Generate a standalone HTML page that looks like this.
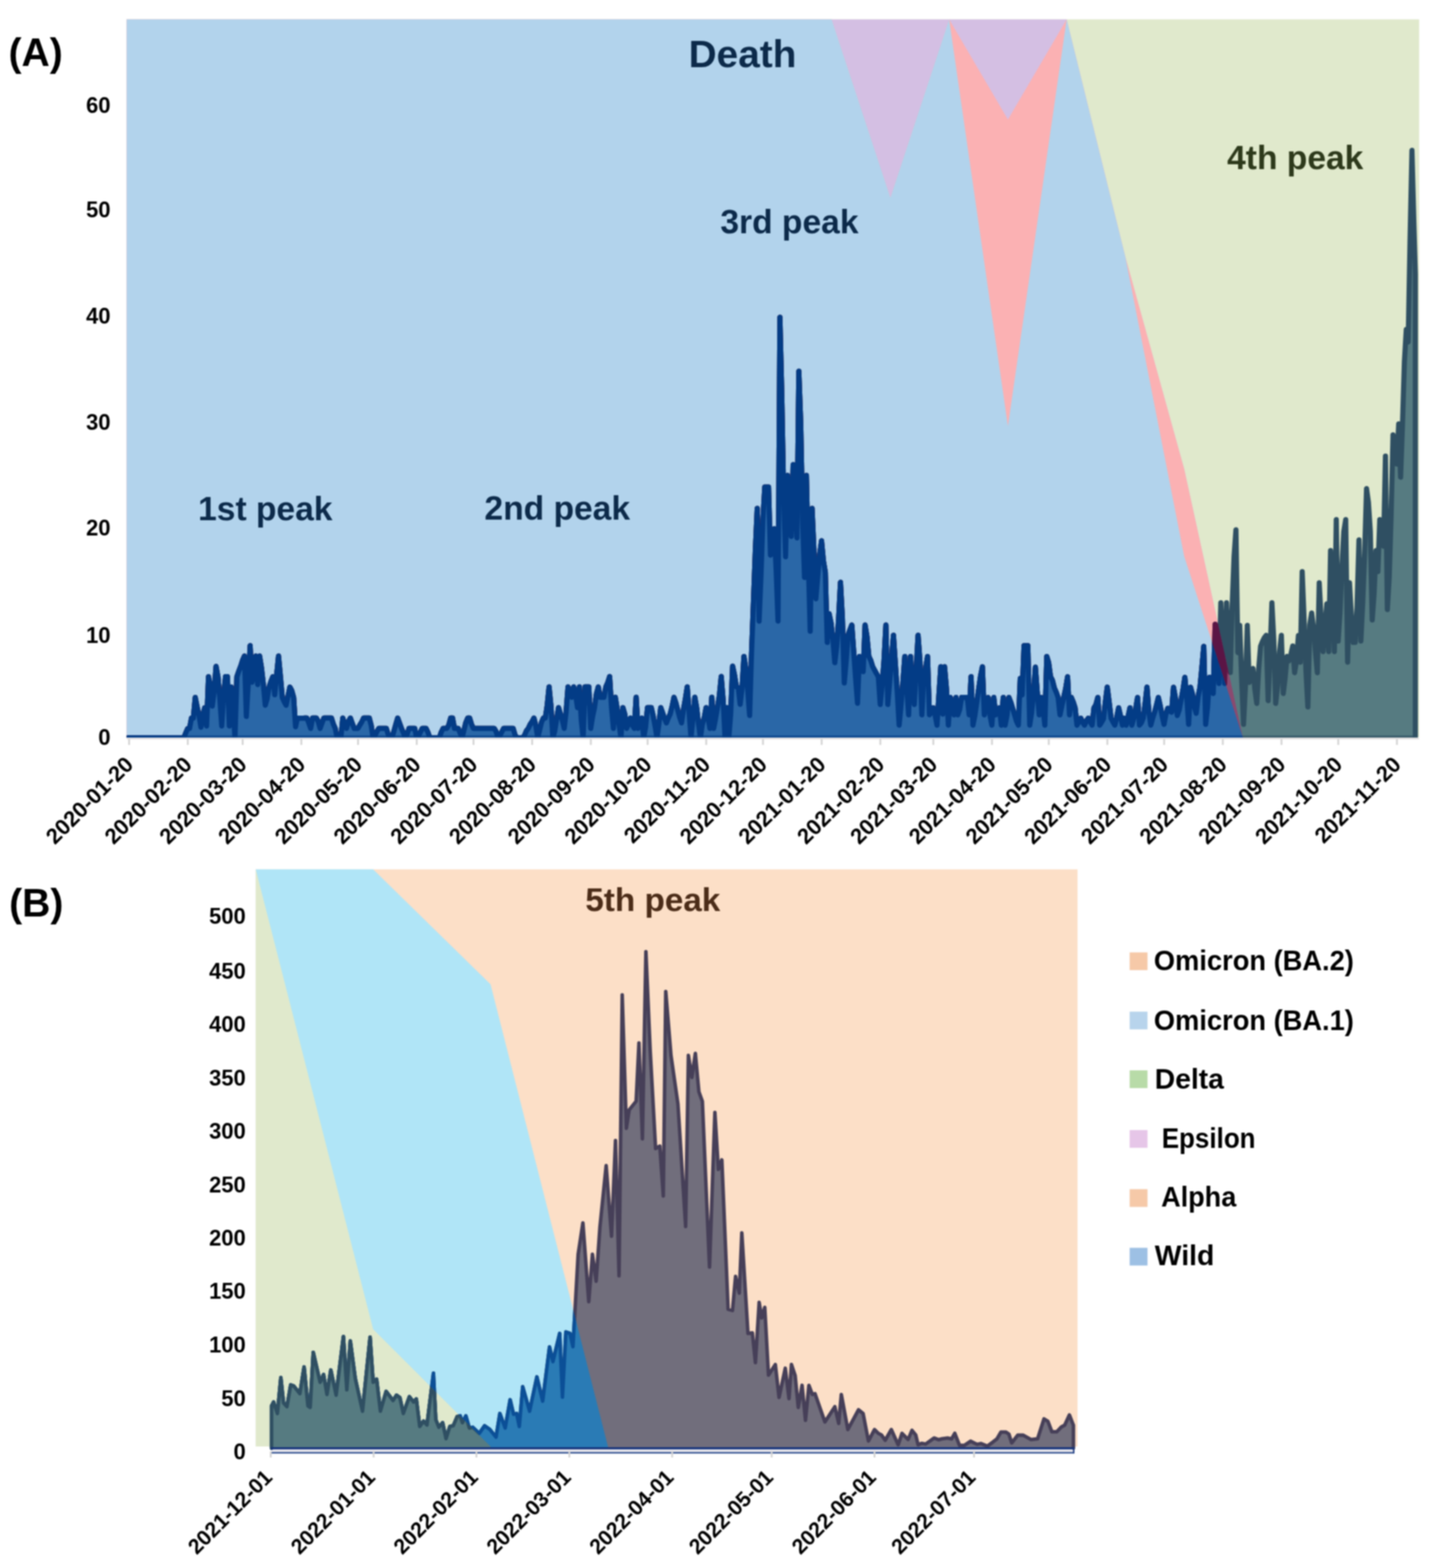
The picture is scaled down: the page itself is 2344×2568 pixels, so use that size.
<!DOCTYPE html>
<html><head><meta charset="utf-8"><title>Variant waves</title><style>
html,body{margin:0;padding:0;background:#fff;width:2344px;height:2568px;overflow:hidden;}
svg{display:block;filter:blur(1px);}
text{font-family:"Liberation Sans",Arial,Helvetica,sans-serif;font-weight:bold;}
</style></head><body>
<svg width="2344" height="2568" viewBox="0 0 2344 2568">
<rect x="0" y="0" width="2344" height="2568" fill="#ffffff"/>
<defs>
<clipPath id="cWA"><polygon points="207.5,31.7 303.7,31.7 400.0,31.7 496.2,31.7 592.4,31.7 688.7,31.7 784.9,31.7 881.1,31.7 977.4,31.7 1073.6,31.7 1169.8,31.7 1266.0,31.7 1362.3,31.7 1458.5,323.4 1554.7,31.7 1651.0,698.0 1747.2,31.7 1843.4,421.0 1939.7,911.0 2035.9,1208.0 2132.1,1208.0 2228.4,1208.0 2324.6,1208.0 2324.6,1208.0 2228.4,1208.0 2132.1,1208.0 2035.9,1208.0 1939.7,1208.0 1843.4,1208.0 1747.2,1208.0 1651.0,1208.0 1554.7,1208.0 1458.5,1208.0 1362.3,1208.0 1266.0,1208.0 1169.8,1208.0 1073.6,1208.0 977.4,1208.0 881.1,1208.0 784.9,1208.0 688.7,1208.0 592.4,1208.0 496.2,1208.0 400.0,1208.0 303.7,1208.0 207.5,1208.0"/></clipPath>
<clipPath id="cAA"><polygon points="207.5,31.7 303.7,31.7 400.0,31.7 496.2,31.7 592.4,31.7 688.7,31.7 784.9,31.7 881.1,31.7 977.4,31.7 1073.6,31.7 1169.8,31.7 1266.0,31.7 1362.3,31.7 1458.5,323.4 1554.7,31.7 1651.0,195.7 1747.2,31.7 1843.4,421.0 1939.7,768.0 2035.9,1208.0 2132.1,1208.0 2228.4,1208.0 2324.6,1208.0 2324.6,1208.0 2228.4,1208.0 2132.1,1208.0 2035.9,1208.0 1939.7,1208.0 1843.4,1208.0 1747.2,1208.0 1651.0,1208.0 1554.7,1208.0 1458.5,1208.0 1362.3,1208.0 1266.0,1208.0 1169.8,1208.0 1073.6,1208.0 977.4,1208.0 881.1,1208.0 784.9,1208.0 688.7,1208.0 592.4,1208.0 496.2,1208.0 400.0,1208.0 303.7,1208.0 207.5,1208.0"/></clipPath>
<clipPath id="cDA"><polygon points="207.5,31.7 2324.6,31.7 2324.6,1208.0 207.5,1208.0"/></clipPath>
<clipPath id="cDB"><polygon points="418.9,1423.8 611.2,2177.0 803.5,2369.0 803.5,2377.0 418.9,2377.0"/></clipPath>
<clipPath id="cB1"><polygon points="418.9,1423.8 611.2,1423.8 803.5,1612.0 995.8,2369.0 995.8,2377.0 418.9,2377.0"/></clipPath>
<clipPath id="cB2"><polygon points="418.9,1423.8 1765.0,1423.8 1765.0,2377.0 418.9,2377.0"/></clipPath>
</defs>
<rect x="207.5" y="31.7" width="2117.1" height="1175.3" fill="#e0e9cc"/>
<polygon points="207.5,31.7 303.7,31.7 400.0,31.7 496.2,31.7 592.4,31.7 688.7,31.7 784.9,31.7 881.1,31.7 977.4,31.7 1073.6,31.7 1169.8,31.7 1266.0,31.7 1362.3,31.7 1458.5,31.7 1554.7,31.7 1651.0,31.7 1747.2,31.7 1843.4,421.0 1939.7,768.0 2035.9,1207.0 2132.1,1207.0 2228.4,1207.0 2324.6,1207.0 2324.6,1207.0 2228.4,1207.0 2132.1,1207.0 2035.9,1207.0 1939.7,1207.0 1843.4,1207.0 1747.2,1207.0 1651.0,1207.0 1554.7,1207.0 1458.5,1207.0 1362.3,1207.0 1266.0,1207.0 1169.8,1207.0 1073.6,1207.0 977.4,1207.0 881.1,1207.0 784.9,1207.0 688.7,1207.0 592.4,1207.0 496.2,1207.0 400.0,1207.0 303.7,1207.0 207.5,1207.0" fill="#d4bfe3"/>
<polygon points="207.5,31.7 303.7,31.7 400.0,31.7 496.2,31.7 592.4,31.7 688.7,31.7 784.9,31.7 881.1,31.7 977.4,31.7 1073.6,31.7 1169.8,31.7 1266.0,31.7 1362.3,31.7 1458.5,323.4 1554.7,31.7 1651.0,195.7 1747.2,31.7 1843.4,421.0 1939.7,768.0 2035.9,1207.0 2132.1,1207.0 2228.4,1207.0 2324.6,1207.0 2324.6,1207.0 2228.4,1207.0 2132.1,1207.0 2035.9,1207.0 1939.7,1207.0 1843.4,1207.0 1747.2,1207.0 1651.0,1207.0 1554.7,1207.0 1458.5,1207.0 1362.3,1207.0 1266.0,1207.0 1169.8,1207.0 1073.6,1207.0 977.4,1207.0 881.1,1207.0 784.9,1207.0 688.7,1207.0 592.4,1207.0 496.2,1207.0 400.0,1207.0 303.7,1207.0 207.5,1207.0" fill="#fbb1b3"/>
<polygon points="207.5,31.7 303.7,31.7 400.0,31.7 496.2,31.7 592.4,31.7 688.7,31.7 784.9,31.7 881.1,31.7 977.4,31.7 1073.6,31.7 1169.8,31.7 1266.0,31.7 1362.3,31.7 1458.5,323.4 1554.7,31.7 1651.0,698.0 1747.2,31.7 1843.4,421.0 1939.7,911.0 2035.9,1207.0 2132.1,1207.0 2228.4,1207.0 2324.6,1207.0 2324.6,1207.0 2228.4,1207.0 2132.1,1207.0 2035.9,1207.0 1939.7,1207.0 1843.4,1207.0 1747.2,1207.0 1651.0,1207.0 1554.7,1207.0 1458.5,1207.0 1362.3,1207.0 1266.0,1207.0 1169.8,1207.0 1073.6,1207.0 977.4,1207.0 881.1,1207.0 784.9,1207.0 688.7,1207.0 592.4,1207.0 496.2,1207.0 400.0,1207.0 303.7,1207.0 207.5,1207.0" fill="#b2d3ec"/>
<g clip-path="url(#cDA)">
<polygon points="209.3,1208.5 209.3,1208.5 211.3,1208.5 214.4,1208.5 217.5,1208.5 220.6,1208.5 223.7,1208.5 226.8,1208.5 229.9,1208.5 233.0,1208.5 236.1,1208.5 239.2,1208.5 242.3,1208.5 245.4,1208.5 248.5,1208.5 251.6,1208.5 254.7,1208.5 257.8,1208.5 260.9,1208.5 264.0,1208.5 267.1,1208.5 270.2,1208.5 273.3,1208.5 276.4,1208.5 279.5,1208.5 282.6,1208.5 285.7,1208.5 288.8,1208.5 291.9,1208.5 295.0,1208.5 298.1,1208.5 301.2,1208.5 304.3,1200.3 307.4,1193.1 310.5,1193.1 313.6,1176.2 316.7,1176.2 319.8,1142.3 322.9,1157.9 326.0,1171.8 329.1,1191.0 332.2,1172.0 335.3,1159.2 338.4,1189.0 341.5,1108.3 344.6,1122.9 347.7,1156.4 350.8,1132.7 353.9,1091.4 357.0,1108.3 360.1,1145.0 363.2,1189.0 366.3,1138.4 369.4,1108.3 372.5,1108.3 375.6,1189.0 378.7,1125.3 381.8,1159.5 384.9,1208.5 388.0,1108.3 391.1,1099.3 394.2,1091.4 397.3,1081.5 400.4,1074.4 403.5,1173.4 406.6,1120.0 409.7,1057.5 412.8,1117.3 415.9,1100.5 419.0,1074.4 422.1,1121.2 425.2,1074.4 428.3,1093.6 431.4,1121.1 434.5,1155.1 437.6,1144.3 440.7,1125.3 443.8,1116.3 446.9,1108.3 450.0,1137.9 453.1,1105.8 456.2,1074.4 459.3,1107.4 462.4,1142.3 465.5,1149.3 468.6,1155.1 471.7,1140.4 474.8,1125.3 477.9,1131.1 481.0,1142.3 484.1,1190.3 487.2,1176.2 490.3,1176.2 493.4,1176.2 496.5,1176.2 499.6,1176.0 502.7,1176.0 505.8,1184.1 508.9,1193.0 512.0,1176.0 515.1,1176.0 518.2,1176.0 521.2,1181.4 524.3,1193.0 527.4,1184.3 530.5,1176.0 533.6,1176.0 536.7,1176.0 539.8,1176.0 542.9,1176.0 546.0,1185.8 549.1,1193.0 552.2,1208.5 555.3,1208.5 558.4,1208.5 561.5,1176.0 564.6,1186.9 567.7,1193.0 570.8,1181.6 573.9,1176.0 577.0,1184.7 580.1,1193.0 583.2,1193.0 586.3,1193.0 589.4,1187.5 592.5,1182.5 595.6,1176.0 598.7,1176.0 601.8,1176.0 604.9,1176.0 608.0,1188.0 611.1,1208.5 614.2,1204.5 617.3,1198.3 620.4,1193.0 623.5,1193.0 626.6,1193.0 629.7,1193.0 632.8,1193.0 635.9,1202.9 639.0,1208.5 642.1,1208.5 645.2,1197.7 648.3,1186.6 651.4,1176.0 654.5,1184.4 657.6,1193.0 660.7,1200.0 663.8,1208.5 666.9,1202.3 670.0,1193.0 673.1,1193.0 676.2,1193.0 679.3,1193.0 682.4,1208.5 685.5,1205.3 688.6,1199.1 691.7,1193.0 694.8,1193.0 697.9,1193.0 701.0,1199.5 704.1,1208.5 707.2,1208.5 710.3,1208.5 713.4,1208.5 716.5,1208.5 719.6,1208.5 722.7,1199.3 725.8,1193.0 728.9,1193.0 732.0,1193.0 735.1,1187.7 738.2,1176.0 741.3,1176.0 744.4,1193.0 747.5,1193.0 750.6,1193.0 753.7,1200.8 756.8,1208.5 759.9,1196.4 763.0,1183.5 766.1,1176.0 769.2,1176.0 772.3,1186.1 775.4,1193.0 778.5,1193.0 781.6,1193.0 784.7,1193.0 787.8,1193.0 790.9,1193.0 794.0,1193.0 797.1,1193.0 800.2,1193.0 803.3,1193.0 806.4,1193.0 809.5,1193.0 812.6,1198.2 815.7,1208.5 818.8,1204.9 821.9,1198.8 825.0,1193.0 828.1,1193.0 831.2,1193.0 834.3,1193.0 837.4,1193.0 840.5,1193.0 843.6,1203.7 846.7,1208.5 849.8,1208.5 852.9,1208.5 856.0,1208.5 859.1,1204.5 862.2,1197.1 865.3,1193.0 868.4,1186.5 871.5,1182.0 874.6,1176.0 877.7,1188.8 880.8,1208.5 883.9,1196.0 887.0,1183.1 890.1,1176.0 893.2,1176.0 896.3,1155.3 899.4,1125.0 902.5,1156.6 905.6,1208.5 908.7,1197.3 911.8,1177.9 914.9,1159.0 918.0,1169.4 921.1,1179.5 924.2,1193.0 927.3,1165.7 930.4,1125.0 933.5,1135.1 936.6,1142.0 939.7,1125.0 942.8,1137.3 945.9,1159.0 949.0,1125.0 952.1,1179.3 955.2,1208.5 958.3,1125.0 961.4,1125.0 964.5,1125.0 967.6,1193.0 970.7,1173.5 973.8,1159.0 976.9,1136.9 980.0,1125.0 983.1,1142.0 986.2,1142.0 989.3,1142.0 992.4,1125.0 995.5,1117.9 998.6,1108.0 1001.7,1159.2 1004.8,1193.0 1007.9,1142.0 1011.0,1161.4 1014.1,1187.8 1017.2,1208.5 1020.3,1159.0 1023.4,1169.7 1026.5,1193.0 1029.6,1184.6 1032.7,1176.0 1035.8,1187.7 1038.9,1193.0 1042.0,1142.0 1045.1,1193.0 1048.2,1185.7 1051.3,1176.0 1054.4,1208.5 1057.5,1191.1 1060.6,1159.0 1063.7,1159.0 1066.8,1159.0 1069.9,1172.4 1073.0,1189.2 1076.1,1208.5 1079.2,1186.2 1082.3,1159.0 1085.4,1167.7 1088.5,1176.8 1091.6,1184.0 1094.7,1176.0 1097.8,1169.4 1100.9,1157.0 1104.0,1142.0 1107.1,1151.4 1110.2,1163.2 1113.3,1175.0 1116.4,1184.0 1119.5,1162.3 1122.6,1144.9 1125.7,1125.0 1128.8,1167.6 1131.9,1208.5 1135.0,1177.4 1138.1,1142.0 1141.2,1159.5 1144.2,1185.9 1147.3,1208.5 1150.4,1186.7 1153.5,1176.0 1156.6,1159.0 1159.7,1174.3 1162.8,1193.0 1165.9,1142.0 1169.0,1193.0 1172.1,1177.1 1175.2,1159.0 1178.3,1139.6 1181.4,1108.0 1184.5,1146.1 1187.6,1208.5 1190.7,1159.0 1193.8,1208.5 1196.9,1169.2 1200.0,1091.0 1203.1,1105.3 1206.2,1125.0 1209.3,1126.6 1212.4,1153.5 1215.5,1127.3 1218.6,1075.1 1221.7,1095.3 1224.8,1131.4 1227.9,1171.8 1231.0,1070.7 1234.1,987.0 1237.2,902.6 1240.3,832.6 1243.4,1017.2 1246.5,943.1 1249.6,852.4 1252.7,797.7 1255.8,797.7 1258.9,797.7 1262.0,909.2 1265.1,887.4 1268.2,865.9 1271.3,933.3 1274.4,1017.2 1277.5,519.7 1280.6,646.5 1283.7,815.4 1286.8,912.0 1289.9,778.6 1293.0,821.7 1296.1,878.5 1299.2,761.0 1302.3,815.7 1305.4,881.0 1308.5,608.0 1311.6,692.3 1314.7,853.4 1317.8,945.8 1320.9,778.6 1324.0,918.8 1327.1,1033.9 1330.2,832.6 1333.3,903.2 1336.4,980.7 1339.5,943.9 1342.6,908.4 1345.7,885.7 1348.8,918.6 1351.9,937.2 1355.0,1052.1 1358.1,1005.3 1361.2,1020.2 1364.3,1047.2 1367.4,1085.4 1370.5,1059.2 1373.6,1014.4 1376.7,953.8 1379.8,1011.0 1382.9,1118.6 1386.0,1083.6 1389.1,1040.2 1392.2,1031.7 1395.3,1023.6 1398.4,1067.4 1401.5,1111.1 1404.6,1151.8 1407.7,1075.1 1410.8,1091.2 1413.9,1100.0 1417.0,1023.6 1420.1,1042.1 1423.2,1075.1 1426.3,1081.6 1429.4,1091.7 1432.5,1097.5 1435.6,1103.1 1438.7,1108.3 1441.8,1153.8 1444.9,1123.2 1448.0,1082.1 1451.1,1023.6 1454.2,1153.8 1457.3,1116.9 1460.4,1078.7 1463.5,1040.5 1466.6,1087.0 1469.7,1133.6 1472.8,1187.7 1475.9,1155.6 1479.0,1117.2 1482.1,1075.1 1485.2,1126.5 1488.3,1170.8 1491.4,1075.1 1494.5,1121.4 1497.6,1153.8 1500.7,1096.6 1503.8,1040.5 1506.9,1082.9 1510.0,1170.8 1513.1,1109.6 1516.2,1094.3 1519.3,1075.1 1522.4,1170.8 1525.5,1166.4 1528.6,1159.2 1531.7,1171.0 1534.8,1187.7 1537.9,1139.0 1541.0,1092.0 1544.1,1169.5 1547.2,1092.0 1550.3,1127.7 1553.4,1187.7 1556.5,1142.3 1559.6,1154.3 1562.7,1170.8 1565.8,1142.3 1568.9,1170.8 1572.0,1162.1 1575.1,1142.3 1578.2,1142.3 1581.3,1142.3 1584.4,1142.3 1587.5,1170.8 1590.6,1108.3 1593.7,1187.7 1596.8,1172.5 1599.9,1150.8 1603.0,1129.2 1606.1,1107.5 1609.2,1092.0 1612.3,1170.8 1615.4,1154.9 1618.5,1142.3 1621.6,1171.4 1624.7,1187.7 1627.8,1142.3 1630.9,1170.8 1634.0,1164.0 1637.1,1159.2 1640.2,1187.7 1643.3,1142.3 1646.4,1187.7 1649.5,1171.8 1652.6,1142.3 1655.7,1150.2 1658.8,1160.5 1661.9,1170.9 1665.0,1181.2 1668.1,1187.7 1671.2,1111.0 1674.3,1138.2 1677.4,1057.5 1680.5,1057.5 1683.6,1057.5 1686.7,1187.7 1689.8,1167.4 1692.9,1135.4 1696.0,1092.7 1699.1,1134.0 1702.2,1170.8 1705.3,1142.3 1708.4,1159.7 1711.5,1187.7 1714.6,1075.1 1717.7,1085.2 1720.8,1108.3 1723.9,1114.3 1727.0,1126.6 1730.1,1133.7 1733.2,1142.3 1736.3,1170.8 1739.4,1156.0 1742.5,1141.8 1745.6,1127.7 1748.7,1108.3 1751.8,1170.8 1754.9,1142.3 1758.0,1149.8 1761.0,1159.2 1764.1,1187.7 1767.2,1182.3 1770.3,1176.2 1773.4,1182.9 1776.5,1187.7 1779.6,1180.3 1782.7,1176.2 1785.8,1182.2 1788.9,1187.7 1792.0,1159.2 1795.1,1154.4 1798.2,1142.3 1801.3,1187.7 1804.4,1182.9 1807.5,1177.5 1810.6,1149.8 1813.7,1125.3 1816.8,1149.7 1819.9,1176.2 1823.0,1182.3 1826.1,1187.7 1829.2,1175.3 1832.3,1159.2 1835.4,1172.7 1838.5,1187.7 1841.6,1176.2 1844.7,1187.7 1847.8,1173.8 1850.9,1159.2 1854.0,1187.7 1857.1,1176.2 1860.2,1161.4 1863.3,1142.3 1866.4,1187.7 1869.5,1183.9 1872.6,1176.2 1875.7,1152.6 1878.8,1125.3 1881.9,1166.4 1885.0,1187.7 1888.1,1176.2 1891.2,1166.8 1894.3,1155.2 1897.4,1142.3 1900.5,1156.5 1903.6,1172.5 1906.7,1186.4 1909.8,1169.5 1912.9,1160.0 1916.0,1164.4 1919.1,1166.5 1922.2,1125.6 1925.3,1142.9 1928.4,1171.9 1931.5,1163.2 1934.6,1146.6 1937.7,1130.1 1940.8,1109.3 1943.9,1141.8 1947.0,1186.4 1950.1,1125.6 1953.2,1136.6 1956.3,1157.6 1959.4,1168.3 1962.5,1141.3 1965.6,1125.6 1968.7,1092.9 1971.8,1058.6 1974.9,1186.4 1978.0,1158.2 1981.1,1109.3 1984.2,1125.2 1987.3,1135.7 1990.4,1022.4 1993.5,1068.1 1996.6,1119.4 1999.7,987.1 2002.8,1055.0 2005.9,1119.4 2009.0,987.1 2012.1,1051.9 2015.2,1101.3 2018.3,992.0 2021.4,911.5 2024.5,867.6 2027.6,1068.7 2030.7,1024.2 2033.8,1110.4 2036.9,1186.4 2040.0,1124.5 2043.1,1024.2 2046.2,1117.6 2049.3,1106.8 2052.4,1094.8 2055.5,1129.0 2058.6,1152.0 2061.7,1095.9 2064.8,1058.6 2067.9,1050.6 2071.0,1044.3 2074.1,1040.5 2077.2,1147.5 2080.3,1072.2 2083.4,987.1 2086.5,1048.9 2089.6,1152.0 2092.7,1122.4 2095.8,1068.4 2098.9,1040.5 2102.0,1135.7 2105.1,1109.9 2108.2,1074.9 2111.3,1082.3 2114.4,1072.2 2117.5,1057.9 2120.6,1101.7 2123.7,1081.5 2126.8,1040.7 2129.9,1084.5 2133.0,936.1 2136.1,1013.4 2139.2,1099.3 2142.3,1157.8 2145.4,1023.4 2148.5,1004.0 2151.6,1028.8 2154.7,1067.2 2157.8,1101.7 2160.9,954.4 2164.0,1012.6 2167.1,1067.2 2170.2,1026.6 2173.3,988.9 2176.4,1067.2 2179.5,901.6 2182.6,959.5 2185.7,1067.2 2188.8,850.9 2191.9,1049.9 2195.0,1003.1 2198.1,929.9 2201.2,870.3 2204.3,850.9 2207.4,1084.5 2210.5,954.4 2213.6,1008.9 2216.7,1052.1 2219.8,1052.1 2222.9,991.3 2226.0,884.3 2229.1,1049.9 2232.2,986.2 2235.3,906.4 2238.4,800.2 2241.5,822.6 2244.6,870.3 2247.7,1015.4 2250.8,972.3 2253.9,901.6 2257.0,936.0 2260.1,850.9 2263.2,872.9 2266.3,894.6 2269.4,746.9 2272.5,998.2 2275.6,944.0 2278.7,843.2 2281.8,712.1 2284.9,735.2 2288.0,760.0 2291.1,694.2 2294.2,781.5 2297.3,694.4 2300.4,593.0 2303.5,539.5 2306.6,560.0 2309.7,391.9 2312.8,246.3 2315.9,363.3 2318.4,449.2 2318.4,1208.5" fill="#567b81"/>
<polyline points="209.3,1208.5 211.3,1208.5 214.4,1208.5 217.5,1208.5 220.6,1208.5 223.7,1208.5 226.8,1208.5 229.9,1208.5 233.0,1208.5 236.1,1208.5 239.2,1208.5 242.3,1208.5 245.4,1208.5 248.5,1208.5 251.6,1208.5 254.7,1208.5 257.8,1208.5 260.9,1208.5 264.0,1208.5 267.1,1208.5 270.2,1208.5 273.3,1208.5 276.4,1208.5 279.5,1208.5 282.6,1208.5 285.7,1208.5 288.8,1208.5 291.9,1208.5 295.0,1208.5 298.1,1208.5 301.2,1208.5 304.3,1200.3 307.4,1193.1 310.5,1193.1 313.6,1176.2 316.7,1176.2 319.8,1142.3 322.9,1157.9 326.0,1171.8 329.1,1191.0 332.2,1172.0 335.3,1159.2 338.4,1189.0 341.5,1108.3 344.6,1122.9 347.7,1156.4 350.8,1132.7 353.9,1091.4 357.0,1108.3 360.1,1145.0 363.2,1189.0 366.3,1138.4 369.4,1108.3 372.5,1108.3 375.6,1189.0 378.7,1125.3 381.8,1159.5 384.9,1208.5 388.0,1108.3 391.1,1099.3 394.2,1091.4 397.3,1081.5 400.4,1074.4 403.5,1173.4 406.6,1120.0 409.7,1057.5 412.8,1117.3 415.9,1100.5 419.0,1074.4 422.1,1121.2 425.2,1074.4 428.3,1093.6 431.4,1121.1 434.5,1155.1 437.6,1144.3 440.7,1125.3 443.8,1116.3 446.9,1108.3 450.0,1137.9 453.1,1105.8 456.2,1074.4 459.3,1107.4 462.4,1142.3 465.5,1149.3 468.6,1155.1 471.7,1140.4 474.8,1125.3 477.9,1131.1 481.0,1142.3 484.1,1190.3 487.2,1176.2 490.3,1176.2 493.4,1176.2 496.5,1176.2 499.6,1176.0 502.7,1176.0 505.8,1184.1 508.9,1193.0 512.0,1176.0 515.1,1176.0 518.2,1176.0 521.2,1181.4 524.3,1193.0 527.4,1184.3 530.5,1176.0 533.6,1176.0 536.7,1176.0 539.8,1176.0 542.9,1176.0 546.0,1185.8 549.1,1193.0 552.2,1208.5 555.3,1208.5 558.4,1208.5 561.5,1176.0 564.6,1186.9 567.7,1193.0 570.8,1181.6 573.9,1176.0 577.0,1184.7 580.1,1193.0 583.2,1193.0 586.3,1193.0 589.4,1187.5 592.5,1182.5 595.6,1176.0 598.7,1176.0 601.8,1176.0 604.9,1176.0 608.0,1188.0 611.1,1208.5 614.2,1204.5 617.3,1198.3 620.4,1193.0 623.5,1193.0 626.6,1193.0 629.7,1193.0 632.8,1193.0 635.9,1202.9 639.0,1208.5 642.1,1208.5 645.2,1197.7 648.3,1186.6 651.4,1176.0 654.5,1184.4 657.6,1193.0 660.7,1200.0 663.8,1208.5 666.9,1202.3 670.0,1193.0 673.1,1193.0 676.2,1193.0 679.3,1193.0 682.4,1208.5 685.5,1205.3 688.6,1199.1 691.7,1193.0 694.8,1193.0 697.9,1193.0 701.0,1199.5 704.1,1208.5 707.2,1208.5 710.3,1208.5 713.4,1208.5 716.5,1208.5 719.6,1208.5 722.7,1199.3 725.8,1193.0 728.9,1193.0 732.0,1193.0 735.1,1187.7 738.2,1176.0 741.3,1176.0 744.4,1193.0 747.5,1193.0 750.6,1193.0 753.7,1200.8 756.8,1208.5 759.9,1196.4 763.0,1183.5 766.1,1176.0 769.2,1176.0 772.3,1186.1 775.4,1193.0 778.5,1193.0 781.6,1193.0 784.7,1193.0 787.8,1193.0 790.9,1193.0 794.0,1193.0 797.1,1193.0 800.2,1193.0 803.3,1193.0 806.4,1193.0 809.5,1193.0 812.6,1198.2 815.7,1208.5 818.8,1204.9 821.9,1198.8 825.0,1193.0 828.1,1193.0 831.2,1193.0 834.3,1193.0 837.4,1193.0 840.5,1193.0 843.6,1203.7 846.7,1208.5 849.8,1208.5 852.9,1208.5 856.0,1208.5 859.1,1204.5 862.2,1197.1 865.3,1193.0 868.4,1186.5 871.5,1182.0 874.6,1176.0 877.7,1188.8 880.8,1208.5 883.9,1196.0 887.0,1183.1 890.1,1176.0 893.2,1176.0 896.3,1155.3 899.4,1125.0 902.5,1156.6 905.6,1208.5 908.7,1197.3 911.8,1177.9 914.9,1159.0 918.0,1169.4 921.1,1179.5 924.2,1193.0 927.3,1165.7 930.4,1125.0 933.5,1135.1 936.6,1142.0 939.7,1125.0 942.8,1137.3 945.9,1159.0 949.0,1125.0 952.1,1179.3 955.2,1208.5 958.3,1125.0 961.4,1125.0 964.5,1125.0 967.6,1193.0 970.7,1173.5 973.8,1159.0 976.9,1136.9 980.0,1125.0 983.1,1142.0 986.2,1142.0 989.3,1142.0 992.4,1125.0 995.5,1117.9 998.6,1108.0 1001.7,1159.2 1004.8,1193.0 1007.9,1142.0 1011.0,1161.4 1014.1,1187.8 1017.2,1208.5 1020.3,1159.0 1023.4,1169.7 1026.5,1193.0 1029.6,1184.6 1032.7,1176.0 1035.8,1187.7 1038.9,1193.0 1042.0,1142.0 1045.1,1193.0 1048.2,1185.7 1051.3,1176.0 1054.4,1208.5 1057.5,1191.1 1060.6,1159.0 1063.7,1159.0 1066.8,1159.0 1069.9,1172.4 1073.0,1189.2 1076.1,1208.5 1079.2,1186.2 1082.3,1159.0 1085.4,1167.7 1088.5,1176.8 1091.6,1184.0 1094.7,1176.0 1097.8,1169.4 1100.9,1157.0 1104.0,1142.0 1107.1,1151.4 1110.2,1163.2 1113.3,1175.0 1116.4,1184.0 1119.5,1162.3 1122.6,1144.9 1125.7,1125.0 1128.8,1167.6 1131.9,1208.5 1135.0,1177.4 1138.1,1142.0 1141.2,1159.5 1144.2,1185.9 1147.3,1208.5 1150.4,1186.7 1153.5,1176.0 1156.6,1159.0 1159.7,1174.3 1162.8,1193.0 1165.9,1142.0 1169.0,1193.0 1172.1,1177.1 1175.2,1159.0 1178.3,1139.6 1181.4,1108.0 1184.5,1146.1 1187.6,1208.5 1190.7,1159.0 1193.8,1208.5 1196.9,1169.2 1200.0,1091.0 1203.1,1105.3 1206.2,1125.0 1209.3,1126.6 1212.4,1153.5 1215.5,1127.3 1218.6,1075.1 1221.7,1095.3 1224.8,1131.4 1227.9,1171.8 1231.0,1070.7 1234.1,987.0 1237.2,902.6 1240.3,832.6 1243.4,1017.2 1246.5,943.1 1249.6,852.4 1252.7,797.7 1255.8,797.7 1258.9,797.7 1262.0,909.2 1265.1,887.4 1268.2,865.9 1271.3,933.3 1274.4,1017.2 1277.5,519.7 1280.6,646.5 1283.7,815.4 1286.8,912.0 1289.9,778.6 1293.0,821.7 1296.1,878.5 1299.2,761.0 1302.3,815.7 1305.4,881.0 1308.5,608.0 1311.6,692.3 1314.7,853.4 1317.8,945.8 1320.9,778.6 1324.0,918.8 1327.1,1033.9 1330.2,832.6 1333.3,903.2 1336.4,980.7 1339.5,943.9 1342.6,908.4 1345.7,885.7 1348.8,918.6 1351.9,937.2 1355.0,1052.1 1358.1,1005.3 1361.2,1020.2 1364.3,1047.2 1367.4,1085.4 1370.5,1059.2 1373.6,1014.4 1376.7,953.8 1379.8,1011.0 1382.9,1118.6 1386.0,1083.6 1389.1,1040.2 1392.2,1031.7 1395.3,1023.6 1398.4,1067.4 1401.5,1111.1 1404.6,1151.8 1407.7,1075.1 1410.8,1091.2 1413.9,1100.0 1417.0,1023.6 1420.1,1042.1 1423.2,1075.1 1426.3,1081.6 1429.4,1091.7 1432.5,1097.5 1435.6,1103.1 1438.7,1108.3 1441.8,1153.8 1444.9,1123.2 1448.0,1082.1 1451.1,1023.6 1454.2,1153.8 1457.3,1116.9 1460.4,1078.7 1463.5,1040.5 1466.6,1087.0 1469.7,1133.6 1472.8,1187.7 1475.9,1155.6 1479.0,1117.2 1482.1,1075.1 1485.2,1126.5 1488.3,1170.8 1491.4,1075.1 1494.5,1121.4 1497.6,1153.8 1500.7,1096.6 1503.8,1040.5 1506.9,1082.9 1510.0,1170.8 1513.1,1109.6 1516.2,1094.3 1519.3,1075.1 1522.4,1170.8 1525.5,1166.4 1528.6,1159.2 1531.7,1171.0 1534.8,1187.7 1537.9,1139.0 1541.0,1092.0 1544.1,1169.5 1547.2,1092.0 1550.3,1127.7 1553.4,1187.7 1556.5,1142.3 1559.6,1154.3 1562.7,1170.8 1565.8,1142.3 1568.9,1170.8 1572.0,1162.1 1575.1,1142.3 1578.2,1142.3 1581.3,1142.3 1584.4,1142.3 1587.5,1170.8 1590.6,1108.3 1593.7,1187.7 1596.8,1172.5 1599.9,1150.8 1603.0,1129.2 1606.1,1107.5 1609.2,1092.0 1612.3,1170.8 1615.4,1154.9 1618.5,1142.3 1621.6,1171.4 1624.7,1187.7 1627.8,1142.3 1630.9,1170.8 1634.0,1164.0 1637.1,1159.2 1640.2,1187.7 1643.3,1142.3 1646.4,1187.7 1649.5,1171.8 1652.6,1142.3 1655.7,1150.2 1658.8,1160.5 1661.9,1170.9 1665.0,1181.2 1668.1,1187.7 1671.2,1111.0 1674.3,1138.2 1677.4,1057.5 1680.5,1057.5 1683.6,1057.5 1686.7,1187.7 1689.8,1167.4 1692.9,1135.4 1696.0,1092.7 1699.1,1134.0 1702.2,1170.8 1705.3,1142.3 1708.4,1159.7 1711.5,1187.7 1714.6,1075.1 1717.7,1085.2 1720.8,1108.3 1723.9,1114.3 1727.0,1126.6 1730.1,1133.7 1733.2,1142.3 1736.3,1170.8 1739.4,1156.0 1742.5,1141.8 1745.6,1127.7 1748.7,1108.3 1751.8,1170.8 1754.9,1142.3 1758.0,1149.8 1761.0,1159.2 1764.1,1187.7 1767.2,1182.3 1770.3,1176.2 1773.4,1182.9 1776.5,1187.7 1779.6,1180.3 1782.7,1176.2 1785.8,1182.2 1788.9,1187.7 1792.0,1159.2 1795.1,1154.4 1798.2,1142.3 1801.3,1187.7 1804.4,1182.9 1807.5,1177.5 1810.6,1149.8 1813.7,1125.3 1816.8,1149.7 1819.9,1176.2 1823.0,1182.3 1826.1,1187.7 1829.2,1175.3 1832.3,1159.2 1835.4,1172.7 1838.5,1187.7 1841.6,1176.2 1844.7,1187.7 1847.8,1173.8 1850.9,1159.2 1854.0,1187.7 1857.1,1176.2 1860.2,1161.4 1863.3,1142.3 1866.4,1187.7 1869.5,1183.9 1872.6,1176.2 1875.7,1152.6 1878.8,1125.3 1881.9,1166.4 1885.0,1187.7 1888.1,1176.2 1891.2,1166.8 1894.3,1155.2 1897.4,1142.3 1900.5,1156.5 1903.6,1172.5 1906.7,1186.4 1909.8,1169.5 1912.9,1160.0 1916.0,1164.4 1919.1,1166.5 1922.2,1125.6 1925.3,1142.9 1928.4,1171.9 1931.5,1163.2 1934.6,1146.6 1937.7,1130.1 1940.8,1109.3 1943.9,1141.8 1947.0,1186.4 1950.1,1125.6 1953.2,1136.6 1956.3,1157.6 1959.4,1168.3 1962.5,1141.3 1965.6,1125.6 1968.7,1092.9 1971.8,1058.6 1974.9,1186.4 1978.0,1158.2 1981.1,1109.3 1984.2,1125.2 1987.3,1135.7 1990.4,1022.4 1993.5,1068.1 1996.6,1119.4 1999.7,987.1 2002.8,1055.0 2005.9,1119.4 2009.0,987.1 2012.1,1051.9 2015.2,1101.3 2018.3,992.0 2021.4,911.5 2024.5,867.6 2027.6,1068.7 2030.7,1024.2 2033.8,1110.4 2036.9,1186.4 2040.0,1124.5 2043.1,1024.2 2046.2,1117.6 2049.3,1106.8 2052.4,1094.8 2055.5,1129.0 2058.6,1152.0 2061.7,1095.9 2064.8,1058.6 2067.9,1050.6 2071.0,1044.3 2074.1,1040.5 2077.2,1147.5 2080.3,1072.2 2083.4,987.1 2086.5,1048.9 2089.6,1152.0 2092.7,1122.4 2095.8,1068.4 2098.9,1040.5 2102.0,1135.7 2105.1,1109.9 2108.2,1074.9 2111.3,1082.3 2114.4,1072.2 2117.5,1057.9 2120.6,1101.7 2123.7,1081.5 2126.8,1040.7 2129.9,1084.5 2133.0,936.1 2136.1,1013.4 2139.2,1099.3 2142.3,1157.8 2145.4,1023.4 2148.5,1004.0 2151.6,1028.8 2154.7,1067.2 2157.8,1101.7 2160.9,954.4 2164.0,1012.6 2167.1,1067.2 2170.2,1026.6 2173.3,988.9 2176.4,1067.2 2179.5,901.6 2182.6,959.5 2185.7,1067.2 2188.8,850.9 2191.9,1049.9 2195.0,1003.1 2198.1,929.9 2201.2,870.3 2204.3,850.9 2207.4,1084.5 2210.5,954.4 2213.6,1008.9 2216.7,1052.1 2219.8,1052.1 2222.9,991.3 2226.0,884.3 2229.1,1049.9 2232.2,986.2 2235.3,906.4 2238.4,800.2 2241.5,822.6 2244.6,870.3 2247.7,1015.4 2250.8,972.3 2253.9,901.6 2257.0,936.0 2260.1,850.9 2263.2,872.9 2266.3,894.6 2269.4,746.9 2272.5,998.2 2275.6,944.0 2278.7,843.2 2281.8,712.1 2284.9,735.2 2288.0,760.0 2291.1,694.2 2294.2,781.5 2297.3,694.4 2300.4,593.0 2303.5,539.5 2306.6,560.0 2309.7,391.9 2312.8,246.3 2315.9,363.3 2318.4,449.2 2318.4,1208.5" fill="none" stroke="#2f4f62" stroke-width="8.4" stroke-linejoin="round" stroke-linecap="round"/>
<line x1="207.5" y1="1206.4" x2="2320.4" y2="1206.4" stroke="#2f4f62" stroke-opacity="0.75" stroke-width="3.2"/>
</g>
<g clip-path="url(#cAA)">
<polygon points="209.3,1208.5 209.3,1208.5 211.3,1208.5 214.4,1208.5 217.5,1208.5 220.6,1208.5 223.7,1208.5 226.8,1208.5 229.9,1208.5 233.0,1208.5 236.1,1208.5 239.2,1208.5 242.3,1208.5 245.4,1208.5 248.5,1208.5 251.6,1208.5 254.7,1208.5 257.8,1208.5 260.9,1208.5 264.0,1208.5 267.1,1208.5 270.2,1208.5 273.3,1208.5 276.4,1208.5 279.5,1208.5 282.6,1208.5 285.7,1208.5 288.8,1208.5 291.9,1208.5 295.0,1208.5 298.1,1208.5 301.2,1208.5 304.3,1200.3 307.4,1193.1 310.5,1193.1 313.6,1176.2 316.7,1176.2 319.8,1142.3 322.9,1157.9 326.0,1171.8 329.1,1191.0 332.2,1172.0 335.3,1159.2 338.4,1189.0 341.5,1108.3 344.6,1122.9 347.7,1156.4 350.8,1132.7 353.9,1091.4 357.0,1108.3 360.1,1145.0 363.2,1189.0 366.3,1138.4 369.4,1108.3 372.5,1108.3 375.6,1189.0 378.7,1125.3 381.8,1159.5 384.9,1208.5 388.0,1108.3 391.1,1099.3 394.2,1091.4 397.3,1081.5 400.4,1074.4 403.5,1173.4 406.6,1120.0 409.7,1057.5 412.8,1117.3 415.9,1100.5 419.0,1074.4 422.1,1121.2 425.2,1074.4 428.3,1093.6 431.4,1121.1 434.5,1155.1 437.6,1144.3 440.7,1125.3 443.8,1116.3 446.9,1108.3 450.0,1137.9 453.1,1105.8 456.2,1074.4 459.3,1107.4 462.4,1142.3 465.5,1149.3 468.6,1155.1 471.7,1140.4 474.8,1125.3 477.9,1131.1 481.0,1142.3 484.1,1190.3 487.2,1176.2 490.3,1176.2 493.4,1176.2 496.5,1176.2 499.6,1176.0 502.7,1176.0 505.8,1184.1 508.9,1193.0 512.0,1176.0 515.1,1176.0 518.2,1176.0 521.2,1181.4 524.3,1193.0 527.4,1184.3 530.5,1176.0 533.6,1176.0 536.7,1176.0 539.8,1176.0 542.9,1176.0 546.0,1185.8 549.1,1193.0 552.2,1208.5 555.3,1208.5 558.4,1208.5 561.5,1176.0 564.6,1186.9 567.7,1193.0 570.8,1181.6 573.9,1176.0 577.0,1184.7 580.1,1193.0 583.2,1193.0 586.3,1193.0 589.4,1187.5 592.5,1182.5 595.6,1176.0 598.7,1176.0 601.8,1176.0 604.9,1176.0 608.0,1188.0 611.1,1208.5 614.2,1204.5 617.3,1198.3 620.4,1193.0 623.5,1193.0 626.6,1193.0 629.7,1193.0 632.8,1193.0 635.9,1202.9 639.0,1208.5 642.1,1208.5 645.2,1197.7 648.3,1186.6 651.4,1176.0 654.5,1184.4 657.6,1193.0 660.7,1200.0 663.8,1208.5 666.9,1202.3 670.0,1193.0 673.1,1193.0 676.2,1193.0 679.3,1193.0 682.4,1208.5 685.5,1205.3 688.6,1199.1 691.7,1193.0 694.8,1193.0 697.9,1193.0 701.0,1199.5 704.1,1208.5 707.2,1208.5 710.3,1208.5 713.4,1208.5 716.5,1208.5 719.6,1208.5 722.7,1199.3 725.8,1193.0 728.9,1193.0 732.0,1193.0 735.1,1187.7 738.2,1176.0 741.3,1176.0 744.4,1193.0 747.5,1193.0 750.6,1193.0 753.7,1200.8 756.8,1208.5 759.9,1196.4 763.0,1183.5 766.1,1176.0 769.2,1176.0 772.3,1186.1 775.4,1193.0 778.5,1193.0 781.6,1193.0 784.7,1193.0 787.8,1193.0 790.9,1193.0 794.0,1193.0 797.1,1193.0 800.2,1193.0 803.3,1193.0 806.4,1193.0 809.5,1193.0 812.6,1198.2 815.7,1208.5 818.8,1204.9 821.9,1198.8 825.0,1193.0 828.1,1193.0 831.2,1193.0 834.3,1193.0 837.4,1193.0 840.5,1193.0 843.6,1203.7 846.7,1208.5 849.8,1208.5 852.9,1208.5 856.0,1208.5 859.1,1204.5 862.2,1197.1 865.3,1193.0 868.4,1186.5 871.5,1182.0 874.6,1176.0 877.7,1188.8 880.8,1208.5 883.9,1196.0 887.0,1183.1 890.1,1176.0 893.2,1176.0 896.3,1155.3 899.4,1125.0 902.5,1156.6 905.6,1208.5 908.7,1197.3 911.8,1177.9 914.9,1159.0 918.0,1169.4 921.1,1179.5 924.2,1193.0 927.3,1165.7 930.4,1125.0 933.5,1135.1 936.6,1142.0 939.7,1125.0 942.8,1137.3 945.9,1159.0 949.0,1125.0 952.1,1179.3 955.2,1208.5 958.3,1125.0 961.4,1125.0 964.5,1125.0 967.6,1193.0 970.7,1173.5 973.8,1159.0 976.9,1136.9 980.0,1125.0 983.1,1142.0 986.2,1142.0 989.3,1142.0 992.4,1125.0 995.5,1117.9 998.6,1108.0 1001.7,1159.2 1004.8,1193.0 1007.9,1142.0 1011.0,1161.4 1014.1,1187.8 1017.2,1208.5 1020.3,1159.0 1023.4,1169.7 1026.5,1193.0 1029.6,1184.6 1032.7,1176.0 1035.8,1187.7 1038.9,1193.0 1042.0,1142.0 1045.1,1193.0 1048.2,1185.7 1051.3,1176.0 1054.4,1208.5 1057.5,1191.1 1060.6,1159.0 1063.7,1159.0 1066.8,1159.0 1069.9,1172.4 1073.0,1189.2 1076.1,1208.5 1079.2,1186.2 1082.3,1159.0 1085.4,1167.7 1088.5,1176.8 1091.6,1184.0 1094.7,1176.0 1097.8,1169.4 1100.9,1157.0 1104.0,1142.0 1107.1,1151.4 1110.2,1163.2 1113.3,1175.0 1116.4,1184.0 1119.5,1162.3 1122.6,1144.9 1125.7,1125.0 1128.8,1167.6 1131.9,1208.5 1135.0,1177.4 1138.1,1142.0 1141.2,1159.5 1144.2,1185.9 1147.3,1208.5 1150.4,1186.7 1153.5,1176.0 1156.6,1159.0 1159.7,1174.3 1162.8,1193.0 1165.9,1142.0 1169.0,1193.0 1172.1,1177.1 1175.2,1159.0 1178.3,1139.6 1181.4,1108.0 1184.5,1146.1 1187.6,1208.5 1190.7,1159.0 1193.8,1208.5 1196.9,1169.2 1200.0,1091.0 1203.1,1105.3 1206.2,1125.0 1209.3,1126.6 1212.4,1153.5 1215.5,1127.3 1218.6,1075.1 1221.7,1095.3 1224.8,1131.4 1227.9,1171.8 1231.0,1070.7 1234.1,987.0 1237.2,902.6 1240.3,832.6 1243.4,1017.2 1246.5,943.1 1249.6,852.4 1252.7,797.7 1255.8,797.7 1258.9,797.7 1262.0,909.2 1265.1,887.4 1268.2,865.9 1271.3,933.3 1274.4,1017.2 1277.5,519.7 1280.6,646.5 1283.7,815.4 1286.8,912.0 1289.9,778.6 1293.0,821.7 1296.1,878.5 1299.2,761.0 1302.3,815.7 1305.4,881.0 1308.5,608.0 1311.6,692.3 1314.7,853.4 1317.8,945.8 1320.9,778.6 1324.0,918.8 1327.1,1033.9 1330.2,832.6 1333.3,903.2 1336.4,980.7 1339.5,943.9 1342.6,908.4 1345.7,885.7 1348.8,918.6 1351.9,937.2 1355.0,1052.1 1358.1,1005.3 1361.2,1020.2 1364.3,1047.2 1367.4,1085.4 1370.5,1059.2 1373.6,1014.4 1376.7,953.8 1379.8,1011.0 1382.9,1118.6 1386.0,1083.6 1389.1,1040.2 1392.2,1031.7 1395.3,1023.6 1398.4,1067.4 1401.5,1111.1 1404.6,1151.8 1407.7,1075.1 1410.8,1091.2 1413.9,1100.0 1417.0,1023.6 1420.1,1042.1 1423.2,1075.1 1426.3,1081.6 1429.4,1091.7 1432.5,1097.5 1435.6,1103.1 1438.7,1108.3 1441.8,1153.8 1444.9,1123.2 1448.0,1082.1 1451.1,1023.6 1454.2,1153.8 1457.3,1116.9 1460.4,1078.7 1463.5,1040.5 1466.6,1087.0 1469.7,1133.6 1472.8,1187.7 1475.9,1155.6 1479.0,1117.2 1482.1,1075.1 1485.2,1126.5 1488.3,1170.8 1491.4,1075.1 1494.5,1121.4 1497.6,1153.8 1500.7,1096.6 1503.8,1040.5 1506.9,1082.9 1510.0,1170.8 1513.1,1109.6 1516.2,1094.3 1519.3,1075.1 1522.4,1170.8 1525.5,1166.4 1528.6,1159.2 1531.7,1171.0 1534.8,1187.7 1537.9,1139.0 1541.0,1092.0 1544.1,1169.5 1547.2,1092.0 1550.3,1127.7 1553.4,1187.7 1556.5,1142.3 1559.6,1154.3 1562.7,1170.8 1565.8,1142.3 1568.9,1170.8 1572.0,1162.1 1575.1,1142.3 1578.2,1142.3 1581.3,1142.3 1584.4,1142.3 1587.5,1170.8 1590.6,1108.3 1593.7,1187.7 1596.8,1172.5 1599.9,1150.8 1603.0,1129.2 1606.1,1107.5 1609.2,1092.0 1612.3,1170.8 1615.4,1154.9 1618.5,1142.3 1621.6,1171.4 1624.7,1187.7 1627.8,1142.3 1630.9,1170.8 1634.0,1164.0 1637.1,1159.2 1640.2,1187.7 1643.3,1142.3 1646.4,1187.7 1649.5,1171.8 1652.6,1142.3 1655.7,1150.2 1658.8,1160.5 1661.9,1170.9 1665.0,1181.2 1668.1,1187.7 1671.2,1111.0 1674.3,1138.2 1677.4,1057.5 1680.5,1057.5 1683.6,1057.5 1686.7,1187.7 1689.8,1167.4 1692.9,1135.4 1696.0,1092.7 1699.1,1134.0 1702.2,1170.8 1705.3,1142.3 1708.4,1159.7 1711.5,1187.7 1714.6,1075.1 1717.7,1085.2 1720.8,1108.3 1723.9,1114.3 1727.0,1126.6 1730.1,1133.7 1733.2,1142.3 1736.3,1170.8 1739.4,1156.0 1742.5,1141.8 1745.6,1127.7 1748.7,1108.3 1751.8,1170.8 1754.9,1142.3 1758.0,1149.8 1761.0,1159.2 1764.1,1187.7 1767.2,1182.3 1770.3,1176.2 1773.4,1182.9 1776.5,1187.7 1779.6,1180.3 1782.7,1176.2 1785.8,1182.2 1788.9,1187.7 1792.0,1159.2 1795.1,1154.4 1798.2,1142.3 1801.3,1187.7 1804.4,1182.9 1807.5,1177.5 1810.6,1149.8 1813.7,1125.3 1816.8,1149.7 1819.9,1176.2 1823.0,1182.3 1826.1,1187.7 1829.2,1175.3 1832.3,1159.2 1835.4,1172.7 1838.5,1187.7 1841.6,1176.2 1844.7,1187.7 1847.8,1173.8 1850.9,1159.2 1854.0,1187.7 1857.1,1176.2 1860.2,1161.4 1863.3,1142.3 1866.4,1187.7 1869.5,1183.9 1872.6,1176.2 1875.7,1152.6 1878.8,1125.3 1881.9,1166.4 1885.0,1187.7 1888.1,1176.2 1891.2,1166.8 1894.3,1155.2 1897.4,1142.3 1900.5,1156.5 1903.6,1172.5 1906.7,1186.4 1909.8,1169.5 1912.9,1160.0 1916.0,1164.4 1919.1,1166.5 1922.2,1125.6 1925.3,1142.9 1928.4,1171.9 1931.5,1163.2 1934.6,1146.6 1937.7,1130.1 1940.8,1109.3 1943.9,1141.8 1947.0,1186.4 1950.1,1125.6 1953.2,1136.6 1956.3,1157.6 1959.4,1168.3 1962.5,1141.3 1965.6,1125.6 1968.7,1092.9 1971.8,1058.6 1974.9,1186.4 1978.0,1158.2 1981.1,1109.3 1984.2,1125.2 1987.3,1135.7 1990.4,1022.4 1993.5,1068.1 1996.6,1119.4 1999.7,987.1 2002.8,1055.0 2005.9,1119.4 2009.0,987.1 2012.1,1051.9 2015.2,1101.3 2018.3,992.0 2021.4,911.5 2024.5,867.6 2027.6,1068.7 2030.7,1024.2 2033.8,1110.4 2036.9,1186.4 2040.0,1124.5 2043.1,1024.2 2046.2,1117.6 2049.3,1106.8 2052.4,1094.8 2055.5,1129.0 2058.6,1152.0 2061.7,1095.9 2064.8,1058.6 2067.9,1050.6 2071.0,1044.3 2074.1,1040.5 2077.2,1147.5 2080.3,1072.2 2083.4,987.1 2086.5,1048.9 2089.6,1152.0 2092.7,1122.4 2095.8,1068.4 2098.9,1040.5 2102.0,1135.7 2105.1,1109.9 2108.2,1074.9 2111.3,1082.3 2114.4,1072.2 2117.5,1057.9 2120.6,1101.7 2123.7,1081.5 2126.8,1040.7 2129.9,1084.5 2133.0,936.1 2136.1,1013.4 2139.2,1099.3 2142.3,1157.8 2145.4,1023.4 2148.5,1004.0 2151.6,1028.8 2154.7,1067.2 2157.8,1101.7 2160.9,954.4 2164.0,1012.6 2167.1,1067.2 2170.2,1026.6 2173.3,988.9 2176.4,1067.2 2179.5,901.6 2182.6,959.5 2185.7,1067.2 2188.8,850.9 2191.9,1049.9 2195.0,1003.1 2198.1,929.9 2201.2,870.3 2204.3,850.9 2207.4,1084.5 2210.5,954.4 2213.6,1008.9 2216.7,1052.1 2219.8,1052.1 2222.9,991.3 2226.0,884.3 2229.1,1049.9 2232.2,986.2 2235.3,906.4 2238.4,800.2 2241.5,822.6 2244.6,870.3 2247.7,1015.4 2250.8,972.3 2253.9,901.6 2257.0,936.0 2260.1,850.9 2263.2,872.9 2266.3,894.6 2269.4,746.9 2272.5,998.2 2275.6,944.0 2278.7,843.2 2281.8,712.1 2284.9,735.2 2288.0,760.0 2291.1,694.2 2294.2,781.5 2297.3,694.4 2300.4,593.0 2303.5,539.5 2306.6,560.0 2309.7,391.9 2312.8,246.3 2315.9,363.3 2318.4,449.2 2318.4,1208.5" fill="#8a4a70"/>
<polyline points="209.3,1208.5 211.3,1208.5 214.4,1208.5 217.5,1208.5 220.6,1208.5 223.7,1208.5 226.8,1208.5 229.9,1208.5 233.0,1208.5 236.1,1208.5 239.2,1208.5 242.3,1208.5 245.4,1208.5 248.5,1208.5 251.6,1208.5 254.7,1208.5 257.8,1208.5 260.9,1208.5 264.0,1208.5 267.1,1208.5 270.2,1208.5 273.3,1208.5 276.4,1208.5 279.5,1208.5 282.6,1208.5 285.7,1208.5 288.8,1208.5 291.9,1208.5 295.0,1208.5 298.1,1208.5 301.2,1208.5 304.3,1200.3 307.4,1193.1 310.5,1193.1 313.6,1176.2 316.7,1176.2 319.8,1142.3 322.9,1157.9 326.0,1171.8 329.1,1191.0 332.2,1172.0 335.3,1159.2 338.4,1189.0 341.5,1108.3 344.6,1122.9 347.7,1156.4 350.8,1132.7 353.9,1091.4 357.0,1108.3 360.1,1145.0 363.2,1189.0 366.3,1138.4 369.4,1108.3 372.5,1108.3 375.6,1189.0 378.7,1125.3 381.8,1159.5 384.9,1208.5 388.0,1108.3 391.1,1099.3 394.2,1091.4 397.3,1081.5 400.4,1074.4 403.5,1173.4 406.6,1120.0 409.7,1057.5 412.8,1117.3 415.9,1100.5 419.0,1074.4 422.1,1121.2 425.2,1074.4 428.3,1093.6 431.4,1121.1 434.5,1155.1 437.6,1144.3 440.7,1125.3 443.8,1116.3 446.9,1108.3 450.0,1137.9 453.1,1105.8 456.2,1074.4 459.3,1107.4 462.4,1142.3 465.5,1149.3 468.6,1155.1 471.7,1140.4 474.8,1125.3 477.9,1131.1 481.0,1142.3 484.1,1190.3 487.2,1176.2 490.3,1176.2 493.4,1176.2 496.5,1176.2 499.6,1176.0 502.7,1176.0 505.8,1184.1 508.9,1193.0 512.0,1176.0 515.1,1176.0 518.2,1176.0 521.2,1181.4 524.3,1193.0 527.4,1184.3 530.5,1176.0 533.6,1176.0 536.7,1176.0 539.8,1176.0 542.9,1176.0 546.0,1185.8 549.1,1193.0 552.2,1208.5 555.3,1208.5 558.4,1208.5 561.5,1176.0 564.6,1186.9 567.7,1193.0 570.8,1181.6 573.9,1176.0 577.0,1184.7 580.1,1193.0 583.2,1193.0 586.3,1193.0 589.4,1187.5 592.5,1182.5 595.6,1176.0 598.7,1176.0 601.8,1176.0 604.9,1176.0 608.0,1188.0 611.1,1208.5 614.2,1204.5 617.3,1198.3 620.4,1193.0 623.5,1193.0 626.6,1193.0 629.7,1193.0 632.8,1193.0 635.9,1202.9 639.0,1208.5 642.1,1208.5 645.2,1197.7 648.3,1186.6 651.4,1176.0 654.5,1184.4 657.6,1193.0 660.7,1200.0 663.8,1208.5 666.9,1202.3 670.0,1193.0 673.1,1193.0 676.2,1193.0 679.3,1193.0 682.4,1208.5 685.5,1205.3 688.6,1199.1 691.7,1193.0 694.8,1193.0 697.9,1193.0 701.0,1199.5 704.1,1208.5 707.2,1208.5 710.3,1208.5 713.4,1208.5 716.5,1208.5 719.6,1208.5 722.7,1199.3 725.8,1193.0 728.9,1193.0 732.0,1193.0 735.1,1187.7 738.2,1176.0 741.3,1176.0 744.4,1193.0 747.5,1193.0 750.6,1193.0 753.7,1200.8 756.8,1208.5 759.9,1196.4 763.0,1183.5 766.1,1176.0 769.2,1176.0 772.3,1186.1 775.4,1193.0 778.5,1193.0 781.6,1193.0 784.7,1193.0 787.8,1193.0 790.9,1193.0 794.0,1193.0 797.1,1193.0 800.2,1193.0 803.3,1193.0 806.4,1193.0 809.5,1193.0 812.6,1198.2 815.7,1208.5 818.8,1204.9 821.9,1198.8 825.0,1193.0 828.1,1193.0 831.2,1193.0 834.3,1193.0 837.4,1193.0 840.5,1193.0 843.6,1203.7 846.7,1208.5 849.8,1208.5 852.9,1208.5 856.0,1208.5 859.1,1204.5 862.2,1197.1 865.3,1193.0 868.4,1186.5 871.5,1182.0 874.6,1176.0 877.7,1188.8 880.8,1208.5 883.9,1196.0 887.0,1183.1 890.1,1176.0 893.2,1176.0 896.3,1155.3 899.4,1125.0 902.5,1156.6 905.6,1208.5 908.7,1197.3 911.8,1177.9 914.9,1159.0 918.0,1169.4 921.1,1179.5 924.2,1193.0 927.3,1165.7 930.4,1125.0 933.5,1135.1 936.6,1142.0 939.7,1125.0 942.8,1137.3 945.9,1159.0 949.0,1125.0 952.1,1179.3 955.2,1208.5 958.3,1125.0 961.4,1125.0 964.5,1125.0 967.6,1193.0 970.7,1173.5 973.8,1159.0 976.9,1136.9 980.0,1125.0 983.1,1142.0 986.2,1142.0 989.3,1142.0 992.4,1125.0 995.5,1117.9 998.6,1108.0 1001.7,1159.2 1004.8,1193.0 1007.9,1142.0 1011.0,1161.4 1014.1,1187.8 1017.2,1208.5 1020.3,1159.0 1023.4,1169.7 1026.5,1193.0 1029.6,1184.6 1032.7,1176.0 1035.8,1187.7 1038.9,1193.0 1042.0,1142.0 1045.1,1193.0 1048.2,1185.7 1051.3,1176.0 1054.4,1208.5 1057.5,1191.1 1060.6,1159.0 1063.7,1159.0 1066.8,1159.0 1069.9,1172.4 1073.0,1189.2 1076.1,1208.5 1079.2,1186.2 1082.3,1159.0 1085.4,1167.7 1088.5,1176.8 1091.6,1184.0 1094.7,1176.0 1097.8,1169.4 1100.9,1157.0 1104.0,1142.0 1107.1,1151.4 1110.2,1163.2 1113.3,1175.0 1116.4,1184.0 1119.5,1162.3 1122.6,1144.9 1125.7,1125.0 1128.8,1167.6 1131.9,1208.5 1135.0,1177.4 1138.1,1142.0 1141.2,1159.5 1144.2,1185.9 1147.3,1208.5 1150.4,1186.7 1153.5,1176.0 1156.6,1159.0 1159.7,1174.3 1162.8,1193.0 1165.9,1142.0 1169.0,1193.0 1172.1,1177.1 1175.2,1159.0 1178.3,1139.6 1181.4,1108.0 1184.5,1146.1 1187.6,1208.5 1190.7,1159.0 1193.8,1208.5 1196.9,1169.2 1200.0,1091.0 1203.1,1105.3 1206.2,1125.0 1209.3,1126.6 1212.4,1153.5 1215.5,1127.3 1218.6,1075.1 1221.7,1095.3 1224.8,1131.4 1227.9,1171.8 1231.0,1070.7 1234.1,987.0 1237.2,902.6 1240.3,832.6 1243.4,1017.2 1246.5,943.1 1249.6,852.4 1252.7,797.7 1255.8,797.7 1258.9,797.7 1262.0,909.2 1265.1,887.4 1268.2,865.9 1271.3,933.3 1274.4,1017.2 1277.5,519.7 1280.6,646.5 1283.7,815.4 1286.8,912.0 1289.9,778.6 1293.0,821.7 1296.1,878.5 1299.2,761.0 1302.3,815.7 1305.4,881.0 1308.5,608.0 1311.6,692.3 1314.7,853.4 1317.8,945.8 1320.9,778.6 1324.0,918.8 1327.1,1033.9 1330.2,832.6 1333.3,903.2 1336.4,980.7 1339.5,943.9 1342.6,908.4 1345.7,885.7 1348.8,918.6 1351.9,937.2 1355.0,1052.1 1358.1,1005.3 1361.2,1020.2 1364.3,1047.2 1367.4,1085.4 1370.5,1059.2 1373.6,1014.4 1376.7,953.8 1379.8,1011.0 1382.9,1118.6 1386.0,1083.6 1389.1,1040.2 1392.2,1031.7 1395.3,1023.6 1398.4,1067.4 1401.5,1111.1 1404.6,1151.8 1407.7,1075.1 1410.8,1091.2 1413.9,1100.0 1417.0,1023.6 1420.1,1042.1 1423.2,1075.1 1426.3,1081.6 1429.4,1091.7 1432.5,1097.5 1435.6,1103.1 1438.7,1108.3 1441.8,1153.8 1444.9,1123.2 1448.0,1082.1 1451.1,1023.6 1454.2,1153.8 1457.3,1116.9 1460.4,1078.7 1463.5,1040.5 1466.6,1087.0 1469.7,1133.6 1472.8,1187.7 1475.9,1155.6 1479.0,1117.2 1482.1,1075.1 1485.2,1126.5 1488.3,1170.8 1491.4,1075.1 1494.5,1121.4 1497.6,1153.8 1500.7,1096.6 1503.8,1040.5 1506.9,1082.9 1510.0,1170.8 1513.1,1109.6 1516.2,1094.3 1519.3,1075.1 1522.4,1170.8 1525.5,1166.4 1528.6,1159.2 1531.7,1171.0 1534.8,1187.7 1537.9,1139.0 1541.0,1092.0 1544.1,1169.5 1547.2,1092.0 1550.3,1127.7 1553.4,1187.7 1556.5,1142.3 1559.6,1154.3 1562.7,1170.8 1565.8,1142.3 1568.9,1170.8 1572.0,1162.1 1575.1,1142.3 1578.2,1142.3 1581.3,1142.3 1584.4,1142.3 1587.5,1170.8 1590.6,1108.3 1593.7,1187.7 1596.8,1172.5 1599.9,1150.8 1603.0,1129.2 1606.1,1107.5 1609.2,1092.0 1612.3,1170.8 1615.4,1154.9 1618.5,1142.3 1621.6,1171.4 1624.7,1187.7 1627.8,1142.3 1630.9,1170.8 1634.0,1164.0 1637.1,1159.2 1640.2,1187.7 1643.3,1142.3 1646.4,1187.7 1649.5,1171.8 1652.6,1142.3 1655.7,1150.2 1658.8,1160.5 1661.9,1170.9 1665.0,1181.2 1668.1,1187.7 1671.2,1111.0 1674.3,1138.2 1677.4,1057.5 1680.5,1057.5 1683.6,1057.5 1686.7,1187.7 1689.8,1167.4 1692.9,1135.4 1696.0,1092.7 1699.1,1134.0 1702.2,1170.8 1705.3,1142.3 1708.4,1159.7 1711.5,1187.7 1714.6,1075.1 1717.7,1085.2 1720.8,1108.3 1723.9,1114.3 1727.0,1126.6 1730.1,1133.7 1733.2,1142.3 1736.3,1170.8 1739.4,1156.0 1742.5,1141.8 1745.6,1127.7 1748.7,1108.3 1751.8,1170.8 1754.9,1142.3 1758.0,1149.8 1761.0,1159.2 1764.1,1187.7 1767.2,1182.3 1770.3,1176.2 1773.4,1182.9 1776.5,1187.7 1779.6,1180.3 1782.7,1176.2 1785.8,1182.2 1788.9,1187.7 1792.0,1159.2 1795.1,1154.4 1798.2,1142.3 1801.3,1187.7 1804.4,1182.9 1807.5,1177.5 1810.6,1149.8 1813.7,1125.3 1816.8,1149.7 1819.9,1176.2 1823.0,1182.3 1826.1,1187.7 1829.2,1175.3 1832.3,1159.2 1835.4,1172.7 1838.5,1187.7 1841.6,1176.2 1844.7,1187.7 1847.8,1173.8 1850.9,1159.2 1854.0,1187.7 1857.1,1176.2 1860.2,1161.4 1863.3,1142.3 1866.4,1187.7 1869.5,1183.9 1872.6,1176.2 1875.7,1152.6 1878.8,1125.3 1881.9,1166.4 1885.0,1187.7 1888.1,1176.2 1891.2,1166.8 1894.3,1155.2 1897.4,1142.3 1900.5,1156.5 1903.6,1172.5 1906.7,1186.4 1909.8,1169.5 1912.9,1160.0 1916.0,1164.4 1919.1,1166.5 1922.2,1125.6 1925.3,1142.9 1928.4,1171.9 1931.5,1163.2 1934.6,1146.6 1937.7,1130.1 1940.8,1109.3 1943.9,1141.8 1947.0,1186.4 1950.1,1125.6 1953.2,1136.6 1956.3,1157.6 1959.4,1168.3 1962.5,1141.3 1965.6,1125.6 1968.7,1092.9 1971.8,1058.6 1974.9,1186.4 1978.0,1158.2 1981.1,1109.3 1984.2,1125.2 1987.3,1135.7 1990.4,1022.4 1993.5,1068.1 1996.6,1119.4 1999.7,987.1 2002.8,1055.0 2005.9,1119.4 2009.0,987.1 2012.1,1051.9 2015.2,1101.3 2018.3,992.0 2021.4,911.5 2024.5,867.6 2027.6,1068.7 2030.7,1024.2 2033.8,1110.4 2036.9,1186.4 2040.0,1124.5 2043.1,1024.2 2046.2,1117.6 2049.3,1106.8 2052.4,1094.8 2055.5,1129.0 2058.6,1152.0 2061.7,1095.9 2064.8,1058.6 2067.9,1050.6 2071.0,1044.3 2074.1,1040.5 2077.2,1147.5 2080.3,1072.2 2083.4,987.1 2086.5,1048.9 2089.6,1152.0 2092.7,1122.4 2095.8,1068.4 2098.9,1040.5 2102.0,1135.7 2105.1,1109.9 2108.2,1074.9 2111.3,1082.3 2114.4,1072.2 2117.5,1057.9 2120.6,1101.7 2123.7,1081.5 2126.8,1040.7 2129.9,1084.5 2133.0,936.1 2136.1,1013.4 2139.2,1099.3 2142.3,1157.8 2145.4,1023.4 2148.5,1004.0 2151.6,1028.8 2154.7,1067.2 2157.8,1101.7 2160.9,954.4 2164.0,1012.6 2167.1,1067.2 2170.2,1026.6 2173.3,988.9 2176.4,1067.2 2179.5,901.6 2182.6,959.5 2185.7,1067.2 2188.8,850.9 2191.9,1049.9 2195.0,1003.1 2198.1,929.9 2201.2,870.3 2204.3,850.9 2207.4,1084.5 2210.5,954.4 2213.6,1008.9 2216.7,1052.1 2219.8,1052.1 2222.9,991.3 2226.0,884.3 2229.1,1049.9 2232.2,986.2 2235.3,906.4 2238.4,800.2 2241.5,822.6 2244.6,870.3 2247.7,1015.4 2250.8,972.3 2253.9,901.6 2257.0,936.0 2260.1,850.9 2263.2,872.9 2266.3,894.6 2269.4,746.9 2272.5,998.2 2275.6,944.0 2278.7,843.2 2281.8,712.1 2284.9,735.2 2288.0,760.0 2291.1,694.2 2294.2,781.5 2297.3,694.4 2300.4,593.0 2303.5,539.5 2306.6,560.0 2309.7,391.9 2312.8,246.3 2315.9,363.3 2318.4,449.2 2318.4,1208.5" fill="none" stroke="#5b1545" stroke-width="8.4" stroke-linejoin="round" stroke-linecap="round"/>
<line x1="207.5" y1="1206.4" x2="2320.4" y2="1206.4" stroke="#5b1545" stroke-opacity="0.75" stroke-width="3.2"/>
</g>
<g clip-path="url(#cWA)">
<polygon points="209.3,1208.5 209.3,1208.5 211.3,1208.5 214.4,1208.5 217.5,1208.5 220.6,1208.5 223.7,1208.5 226.8,1208.5 229.9,1208.5 233.0,1208.5 236.1,1208.5 239.2,1208.5 242.3,1208.5 245.4,1208.5 248.5,1208.5 251.6,1208.5 254.7,1208.5 257.8,1208.5 260.9,1208.5 264.0,1208.5 267.1,1208.5 270.2,1208.5 273.3,1208.5 276.4,1208.5 279.5,1208.5 282.6,1208.5 285.7,1208.5 288.8,1208.5 291.9,1208.5 295.0,1208.5 298.1,1208.5 301.2,1208.5 304.3,1200.3 307.4,1193.1 310.5,1193.1 313.6,1176.2 316.7,1176.2 319.8,1142.3 322.9,1157.9 326.0,1171.8 329.1,1191.0 332.2,1172.0 335.3,1159.2 338.4,1189.0 341.5,1108.3 344.6,1122.9 347.7,1156.4 350.8,1132.7 353.9,1091.4 357.0,1108.3 360.1,1145.0 363.2,1189.0 366.3,1138.4 369.4,1108.3 372.5,1108.3 375.6,1189.0 378.7,1125.3 381.8,1159.5 384.9,1208.5 388.0,1108.3 391.1,1099.3 394.2,1091.4 397.3,1081.5 400.4,1074.4 403.5,1173.4 406.6,1120.0 409.7,1057.5 412.8,1117.3 415.9,1100.5 419.0,1074.4 422.1,1121.2 425.2,1074.4 428.3,1093.6 431.4,1121.1 434.5,1155.1 437.6,1144.3 440.7,1125.3 443.8,1116.3 446.9,1108.3 450.0,1137.9 453.1,1105.8 456.2,1074.4 459.3,1107.4 462.4,1142.3 465.5,1149.3 468.6,1155.1 471.7,1140.4 474.8,1125.3 477.9,1131.1 481.0,1142.3 484.1,1190.3 487.2,1176.2 490.3,1176.2 493.4,1176.2 496.5,1176.2 499.6,1176.0 502.7,1176.0 505.8,1184.1 508.9,1193.0 512.0,1176.0 515.1,1176.0 518.2,1176.0 521.2,1181.4 524.3,1193.0 527.4,1184.3 530.5,1176.0 533.6,1176.0 536.7,1176.0 539.8,1176.0 542.9,1176.0 546.0,1185.8 549.1,1193.0 552.2,1208.5 555.3,1208.5 558.4,1208.5 561.5,1176.0 564.6,1186.9 567.7,1193.0 570.8,1181.6 573.9,1176.0 577.0,1184.7 580.1,1193.0 583.2,1193.0 586.3,1193.0 589.4,1187.5 592.5,1182.5 595.6,1176.0 598.7,1176.0 601.8,1176.0 604.9,1176.0 608.0,1188.0 611.1,1208.5 614.2,1204.5 617.3,1198.3 620.4,1193.0 623.5,1193.0 626.6,1193.0 629.7,1193.0 632.8,1193.0 635.9,1202.9 639.0,1208.5 642.1,1208.5 645.2,1197.7 648.3,1186.6 651.4,1176.0 654.5,1184.4 657.6,1193.0 660.7,1200.0 663.8,1208.5 666.9,1202.3 670.0,1193.0 673.1,1193.0 676.2,1193.0 679.3,1193.0 682.4,1208.5 685.5,1205.3 688.6,1199.1 691.7,1193.0 694.8,1193.0 697.9,1193.0 701.0,1199.5 704.1,1208.5 707.2,1208.5 710.3,1208.5 713.4,1208.5 716.5,1208.5 719.6,1208.5 722.7,1199.3 725.8,1193.0 728.9,1193.0 732.0,1193.0 735.1,1187.7 738.2,1176.0 741.3,1176.0 744.4,1193.0 747.5,1193.0 750.6,1193.0 753.7,1200.8 756.8,1208.5 759.9,1196.4 763.0,1183.5 766.1,1176.0 769.2,1176.0 772.3,1186.1 775.4,1193.0 778.5,1193.0 781.6,1193.0 784.7,1193.0 787.8,1193.0 790.9,1193.0 794.0,1193.0 797.1,1193.0 800.2,1193.0 803.3,1193.0 806.4,1193.0 809.5,1193.0 812.6,1198.2 815.7,1208.5 818.8,1204.9 821.9,1198.8 825.0,1193.0 828.1,1193.0 831.2,1193.0 834.3,1193.0 837.4,1193.0 840.5,1193.0 843.6,1203.7 846.7,1208.5 849.8,1208.5 852.9,1208.5 856.0,1208.5 859.1,1204.5 862.2,1197.1 865.3,1193.0 868.4,1186.5 871.5,1182.0 874.6,1176.0 877.7,1188.8 880.8,1208.5 883.9,1196.0 887.0,1183.1 890.1,1176.0 893.2,1176.0 896.3,1155.3 899.4,1125.0 902.5,1156.6 905.6,1208.5 908.7,1197.3 911.8,1177.9 914.9,1159.0 918.0,1169.4 921.1,1179.5 924.2,1193.0 927.3,1165.7 930.4,1125.0 933.5,1135.1 936.6,1142.0 939.7,1125.0 942.8,1137.3 945.9,1159.0 949.0,1125.0 952.1,1179.3 955.2,1208.5 958.3,1125.0 961.4,1125.0 964.5,1125.0 967.6,1193.0 970.7,1173.5 973.8,1159.0 976.9,1136.9 980.0,1125.0 983.1,1142.0 986.2,1142.0 989.3,1142.0 992.4,1125.0 995.5,1117.9 998.6,1108.0 1001.7,1159.2 1004.8,1193.0 1007.9,1142.0 1011.0,1161.4 1014.1,1187.8 1017.2,1208.5 1020.3,1159.0 1023.4,1169.7 1026.5,1193.0 1029.6,1184.6 1032.7,1176.0 1035.8,1187.7 1038.9,1193.0 1042.0,1142.0 1045.1,1193.0 1048.2,1185.7 1051.3,1176.0 1054.4,1208.5 1057.5,1191.1 1060.6,1159.0 1063.7,1159.0 1066.8,1159.0 1069.9,1172.4 1073.0,1189.2 1076.1,1208.5 1079.2,1186.2 1082.3,1159.0 1085.4,1167.7 1088.5,1176.8 1091.6,1184.0 1094.7,1176.0 1097.8,1169.4 1100.9,1157.0 1104.0,1142.0 1107.1,1151.4 1110.2,1163.2 1113.3,1175.0 1116.4,1184.0 1119.5,1162.3 1122.6,1144.9 1125.7,1125.0 1128.8,1167.6 1131.9,1208.5 1135.0,1177.4 1138.1,1142.0 1141.2,1159.5 1144.2,1185.9 1147.3,1208.5 1150.4,1186.7 1153.5,1176.0 1156.6,1159.0 1159.7,1174.3 1162.8,1193.0 1165.9,1142.0 1169.0,1193.0 1172.1,1177.1 1175.2,1159.0 1178.3,1139.6 1181.4,1108.0 1184.5,1146.1 1187.6,1208.5 1190.7,1159.0 1193.8,1208.5 1196.9,1169.2 1200.0,1091.0 1203.1,1105.3 1206.2,1125.0 1209.3,1126.6 1212.4,1153.5 1215.5,1127.3 1218.6,1075.1 1221.7,1095.3 1224.8,1131.4 1227.9,1171.8 1231.0,1070.7 1234.1,987.0 1237.2,902.6 1240.3,832.6 1243.4,1017.2 1246.5,943.1 1249.6,852.4 1252.7,797.7 1255.8,797.7 1258.9,797.7 1262.0,909.2 1265.1,887.4 1268.2,865.9 1271.3,933.3 1274.4,1017.2 1277.5,519.7 1280.6,646.5 1283.7,815.4 1286.8,912.0 1289.9,778.6 1293.0,821.7 1296.1,878.5 1299.2,761.0 1302.3,815.7 1305.4,881.0 1308.5,608.0 1311.6,692.3 1314.7,853.4 1317.8,945.8 1320.9,778.6 1324.0,918.8 1327.1,1033.9 1330.2,832.6 1333.3,903.2 1336.4,980.7 1339.5,943.9 1342.6,908.4 1345.7,885.7 1348.8,918.6 1351.9,937.2 1355.0,1052.1 1358.1,1005.3 1361.2,1020.2 1364.3,1047.2 1367.4,1085.4 1370.5,1059.2 1373.6,1014.4 1376.7,953.8 1379.8,1011.0 1382.9,1118.6 1386.0,1083.6 1389.1,1040.2 1392.2,1031.7 1395.3,1023.6 1398.4,1067.4 1401.5,1111.1 1404.6,1151.8 1407.7,1075.1 1410.8,1091.2 1413.9,1100.0 1417.0,1023.6 1420.1,1042.1 1423.2,1075.1 1426.3,1081.6 1429.4,1091.7 1432.5,1097.5 1435.6,1103.1 1438.7,1108.3 1441.8,1153.8 1444.9,1123.2 1448.0,1082.1 1451.1,1023.6 1454.2,1153.8 1457.3,1116.9 1460.4,1078.7 1463.5,1040.5 1466.6,1087.0 1469.7,1133.6 1472.8,1187.7 1475.9,1155.6 1479.0,1117.2 1482.1,1075.1 1485.2,1126.5 1488.3,1170.8 1491.4,1075.1 1494.5,1121.4 1497.6,1153.8 1500.7,1096.6 1503.8,1040.5 1506.9,1082.9 1510.0,1170.8 1513.1,1109.6 1516.2,1094.3 1519.3,1075.1 1522.4,1170.8 1525.5,1166.4 1528.6,1159.2 1531.7,1171.0 1534.8,1187.7 1537.9,1139.0 1541.0,1092.0 1544.1,1169.5 1547.2,1092.0 1550.3,1127.7 1553.4,1187.7 1556.5,1142.3 1559.6,1154.3 1562.7,1170.8 1565.8,1142.3 1568.9,1170.8 1572.0,1162.1 1575.1,1142.3 1578.2,1142.3 1581.3,1142.3 1584.4,1142.3 1587.5,1170.8 1590.6,1108.3 1593.7,1187.7 1596.8,1172.5 1599.9,1150.8 1603.0,1129.2 1606.1,1107.5 1609.2,1092.0 1612.3,1170.8 1615.4,1154.9 1618.5,1142.3 1621.6,1171.4 1624.7,1187.7 1627.8,1142.3 1630.9,1170.8 1634.0,1164.0 1637.1,1159.2 1640.2,1187.7 1643.3,1142.3 1646.4,1187.7 1649.5,1171.8 1652.6,1142.3 1655.7,1150.2 1658.8,1160.5 1661.9,1170.9 1665.0,1181.2 1668.1,1187.7 1671.2,1111.0 1674.3,1138.2 1677.4,1057.5 1680.5,1057.5 1683.6,1057.5 1686.7,1187.7 1689.8,1167.4 1692.9,1135.4 1696.0,1092.7 1699.1,1134.0 1702.2,1170.8 1705.3,1142.3 1708.4,1159.7 1711.5,1187.7 1714.6,1075.1 1717.7,1085.2 1720.8,1108.3 1723.9,1114.3 1727.0,1126.6 1730.1,1133.7 1733.2,1142.3 1736.3,1170.8 1739.4,1156.0 1742.5,1141.8 1745.6,1127.7 1748.7,1108.3 1751.8,1170.8 1754.9,1142.3 1758.0,1149.8 1761.0,1159.2 1764.1,1187.7 1767.2,1182.3 1770.3,1176.2 1773.4,1182.9 1776.5,1187.7 1779.6,1180.3 1782.7,1176.2 1785.8,1182.2 1788.9,1187.7 1792.0,1159.2 1795.1,1154.4 1798.2,1142.3 1801.3,1187.7 1804.4,1182.9 1807.5,1177.5 1810.6,1149.8 1813.7,1125.3 1816.8,1149.7 1819.9,1176.2 1823.0,1182.3 1826.1,1187.7 1829.2,1175.3 1832.3,1159.2 1835.4,1172.7 1838.5,1187.7 1841.6,1176.2 1844.7,1187.7 1847.8,1173.8 1850.9,1159.2 1854.0,1187.7 1857.1,1176.2 1860.2,1161.4 1863.3,1142.3 1866.4,1187.7 1869.5,1183.9 1872.6,1176.2 1875.7,1152.6 1878.8,1125.3 1881.9,1166.4 1885.0,1187.7 1888.1,1176.2 1891.2,1166.8 1894.3,1155.2 1897.4,1142.3 1900.5,1156.5 1903.6,1172.5 1906.7,1186.4 1909.8,1169.5 1912.9,1160.0 1916.0,1164.4 1919.1,1166.5 1922.2,1125.6 1925.3,1142.9 1928.4,1171.9 1931.5,1163.2 1934.6,1146.6 1937.7,1130.1 1940.8,1109.3 1943.9,1141.8 1947.0,1186.4 1950.1,1125.6 1953.2,1136.6 1956.3,1157.6 1959.4,1168.3 1962.5,1141.3 1965.6,1125.6 1968.7,1092.9 1971.8,1058.6 1974.9,1186.4 1978.0,1158.2 1981.1,1109.3 1984.2,1125.2 1987.3,1135.7 1990.4,1022.4 1993.5,1068.1 1996.6,1119.4 1999.7,987.1 2002.8,1055.0 2005.9,1119.4 2009.0,987.1 2012.1,1051.9 2015.2,1101.3 2018.3,992.0 2021.4,911.5 2024.5,867.6 2027.6,1068.7 2030.7,1024.2 2033.8,1110.4 2036.9,1186.4 2040.0,1124.5 2043.1,1024.2 2046.2,1117.6 2049.3,1106.8 2052.4,1094.8 2055.5,1129.0 2058.6,1152.0 2061.7,1095.9 2064.8,1058.6 2067.9,1050.6 2071.0,1044.3 2074.1,1040.5 2077.2,1147.5 2080.3,1072.2 2083.4,987.1 2086.5,1048.9 2089.6,1152.0 2092.7,1122.4 2095.8,1068.4 2098.9,1040.5 2102.0,1135.7 2105.1,1109.9 2108.2,1074.9 2111.3,1082.3 2114.4,1072.2 2117.5,1057.9 2120.6,1101.7 2123.7,1081.5 2126.8,1040.7 2129.9,1084.5 2133.0,936.1 2136.1,1013.4 2139.2,1099.3 2142.3,1157.8 2145.4,1023.4 2148.5,1004.0 2151.6,1028.8 2154.7,1067.2 2157.8,1101.7 2160.9,954.4 2164.0,1012.6 2167.1,1067.2 2170.2,1026.6 2173.3,988.9 2176.4,1067.2 2179.5,901.6 2182.6,959.5 2185.7,1067.2 2188.8,850.9 2191.9,1049.9 2195.0,1003.1 2198.1,929.9 2201.2,870.3 2204.3,850.9 2207.4,1084.5 2210.5,954.4 2213.6,1008.9 2216.7,1052.1 2219.8,1052.1 2222.9,991.3 2226.0,884.3 2229.1,1049.9 2232.2,986.2 2235.3,906.4 2238.4,800.2 2241.5,822.6 2244.6,870.3 2247.7,1015.4 2250.8,972.3 2253.9,901.6 2257.0,936.0 2260.1,850.9 2263.2,872.9 2266.3,894.6 2269.4,746.9 2272.5,998.2 2275.6,944.0 2278.7,843.2 2281.8,712.1 2284.9,735.2 2288.0,760.0 2291.1,694.2 2294.2,781.5 2297.3,694.4 2300.4,593.0 2303.5,539.5 2306.6,560.0 2309.7,391.9 2312.8,246.3 2315.9,363.3 2318.4,449.2 2318.4,1208.5" fill="#2a67a7"/>
<polyline points="209.3,1208.5 211.3,1208.5 214.4,1208.5 217.5,1208.5 220.6,1208.5 223.7,1208.5 226.8,1208.5 229.9,1208.5 233.0,1208.5 236.1,1208.5 239.2,1208.5 242.3,1208.5 245.4,1208.5 248.5,1208.5 251.6,1208.5 254.7,1208.5 257.8,1208.5 260.9,1208.5 264.0,1208.5 267.1,1208.5 270.2,1208.5 273.3,1208.5 276.4,1208.5 279.5,1208.5 282.6,1208.5 285.7,1208.5 288.8,1208.5 291.9,1208.5 295.0,1208.5 298.1,1208.5 301.2,1208.5 304.3,1200.3 307.4,1193.1 310.5,1193.1 313.6,1176.2 316.7,1176.2 319.8,1142.3 322.9,1157.9 326.0,1171.8 329.1,1191.0 332.2,1172.0 335.3,1159.2 338.4,1189.0 341.5,1108.3 344.6,1122.9 347.7,1156.4 350.8,1132.7 353.9,1091.4 357.0,1108.3 360.1,1145.0 363.2,1189.0 366.3,1138.4 369.4,1108.3 372.5,1108.3 375.6,1189.0 378.7,1125.3 381.8,1159.5 384.9,1208.5 388.0,1108.3 391.1,1099.3 394.2,1091.4 397.3,1081.5 400.4,1074.4 403.5,1173.4 406.6,1120.0 409.7,1057.5 412.8,1117.3 415.9,1100.5 419.0,1074.4 422.1,1121.2 425.2,1074.4 428.3,1093.6 431.4,1121.1 434.5,1155.1 437.6,1144.3 440.7,1125.3 443.8,1116.3 446.9,1108.3 450.0,1137.9 453.1,1105.8 456.2,1074.4 459.3,1107.4 462.4,1142.3 465.5,1149.3 468.6,1155.1 471.7,1140.4 474.8,1125.3 477.9,1131.1 481.0,1142.3 484.1,1190.3 487.2,1176.2 490.3,1176.2 493.4,1176.2 496.5,1176.2 499.6,1176.0 502.7,1176.0 505.8,1184.1 508.9,1193.0 512.0,1176.0 515.1,1176.0 518.2,1176.0 521.2,1181.4 524.3,1193.0 527.4,1184.3 530.5,1176.0 533.6,1176.0 536.7,1176.0 539.8,1176.0 542.9,1176.0 546.0,1185.8 549.1,1193.0 552.2,1208.5 555.3,1208.5 558.4,1208.5 561.5,1176.0 564.6,1186.9 567.7,1193.0 570.8,1181.6 573.9,1176.0 577.0,1184.7 580.1,1193.0 583.2,1193.0 586.3,1193.0 589.4,1187.5 592.5,1182.5 595.6,1176.0 598.7,1176.0 601.8,1176.0 604.9,1176.0 608.0,1188.0 611.1,1208.5 614.2,1204.5 617.3,1198.3 620.4,1193.0 623.5,1193.0 626.6,1193.0 629.7,1193.0 632.8,1193.0 635.9,1202.9 639.0,1208.5 642.1,1208.5 645.2,1197.7 648.3,1186.6 651.4,1176.0 654.5,1184.4 657.6,1193.0 660.7,1200.0 663.8,1208.5 666.9,1202.3 670.0,1193.0 673.1,1193.0 676.2,1193.0 679.3,1193.0 682.4,1208.5 685.5,1205.3 688.6,1199.1 691.7,1193.0 694.8,1193.0 697.9,1193.0 701.0,1199.5 704.1,1208.5 707.2,1208.5 710.3,1208.5 713.4,1208.5 716.5,1208.5 719.6,1208.5 722.7,1199.3 725.8,1193.0 728.9,1193.0 732.0,1193.0 735.1,1187.7 738.2,1176.0 741.3,1176.0 744.4,1193.0 747.5,1193.0 750.6,1193.0 753.7,1200.8 756.8,1208.5 759.9,1196.4 763.0,1183.5 766.1,1176.0 769.2,1176.0 772.3,1186.1 775.4,1193.0 778.5,1193.0 781.6,1193.0 784.7,1193.0 787.8,1193.0 790.9,1193.0 794.0,1193.0 797.1,1193.0 800.2,1193.0 803.3,1193.0 806.4,1193.0 809.5,1193.0 812.6,1198.2 815.7,1208.5 818.8,1204.9 821.9,1198.8 825.0,1193.0 828.1,1193.0 831.2,1193.0 834.3,1193.0 837.4,1193.0 840.5,1193.0 843.6,1203.7 846.7,1208.5 849.8,1208.5 852.9,1208.5 856.0,1208.5 859.1,1204.5 862.2,1197.1 865.3,1193.0 868.4,1186.5 871.5,1182.0 874.6,1176.0 877.7,1188.8 880.8,1208.5 883.9,1196.0 887.0,1183.1 890.1,1176.0 893.2,1176.0 896.3,1155.3 899.4,1125.0 902.5,1156.6 905.6,1208.5 908.7,1197.3 911.8,1177.9 914.9,1159.0 918.0,1169.4 921.1,1179.5 924.2,1193.0 927.3,1165.7 930.4,1125.0 933.5,1135.1 936.6,1142.0 939.7,1125.0 942.8,1137.3 945.9,1159.0 949.0,1125.0 952.1,1179.3 955.2,1208.5 958.3,1125.0 961.4,1125.0 964.5,1125.0 967.6,1193.0 970.7,1173.5 973.8,1159.0 976.9,1136.9 980.0,1125.0 983.1,1142.0 986.2,1142.0 989.3,1142.0 992.4,1125.0 995.5,1117.9 998.6,1108.0 1001.7,1159.2 1004.8,1193.0 1007.9,1142.0 1011.0,1161.4 1014.1,1187.8 1017.2,1208.5 1020.3,1159.0 1023.4,1169.7 1026.5,1193.0 1029.6,1184.6 1032.7,1176.0 1035.8,1187.7 1038.9,1193.0 1042.0,1142.0 1045.1,1193.0 1048.2,1185.7 1051.3,1176.0 1054.4,1208.5 1057.5,1191.1 1060.6,1159.0 1063.7,1159.0 1066.8,1159.0 1069.9,1172.4 1073.0,1189.2 1076.1,1208.5 1079.2,1186.2 1082.3,1159.0 1085.4,1167.7 1088.5,1176.8 1091.6,1184.0 1094.7,1176.0 1097.8,1169.4 1100.9,1157.0 1104.0,1142.0 1107.1,1151.4 1110.2,1163.2 1113.3,1175.0 1116.4,1184.0 1119.5,1162.3 1122.6,1144.9 1125.7,1125.0 1128.8,1167.6 1131.9,1208.5 1135.0,1177.4 1138.1,1142.0 1141.2,1159.5 1144.2,1185.9 1147.3,1208.5 1150.4,1186.7 1153.5,1176.0 1156.6,1159.0 1159.7,1174.3 1162.8,1193.0 1165.9,1142.0 1169.0,1193.0 1172.1,1177.1 1175.2,1159.0 1178.3,1139.6 1181.4,1108.0 1184.5,1146.1 1187.6,1208.5 1190.7,1159.0 1193.8,1208.5 1196.9,1169.2 1200.0,1091.0 1203.1,1105.3 1206.2,1125.0 1209.3,1126.6 1212.4,1153.5 1215.5,1127.3 1218.6,1075.1 1221.7,1095.3 1224.8,1131.4 1227.9,1171.8 1231.0,1070.7 1234.1,987.0 1237.2,902.6 1240.3,832.6 1243.4,1017.2 1246.5,943.1 1249.6,852.4 1252.7,797.7 1255.8,797.7 1258.9,797.7 1262.0,909.2 1265.1,887.4 1268.2,865.9 1271.3,933.3 1274.4,1017.2 1277.5,519.7 1280.6,646.5 1283.7,815.4 1286.8,912.0 1289.9,778.6 1293.0,821.7 1296.1,878.5 1299.2,761.0 1302.3,815.7 1305.4,881.0 1308.5,608.0 1311.6,692.3 1314.7,853.4 1317.8,945.8 1320.9,778.6 1324.0,918.8 1327.1,1033.9 1330.2,832.6 1333.3,903.2 1336.4,980.7 1339.5,943.9 1342.6,908.4 1345.7,885.7 1348.8,918.6 1351.9,937.2 1355.0,1052.1 1358.1,1005.3 1361.2,1020.2 1364.3,1047.2 1367.4,1085.4 1370.5,1059.2 1373.6,1014.4 1376.7,953.8 1379.8,1011.0 1382.9,1118.6 1386.0,1083.6 1389.1,1040.2 1392.2,1031.7 1395.3,1023.6 1398.4,1067.4 1401.5,1111.1 1404.6,1151.8 1407.7,1075.1 1410.8,1091.2 1413.9,1100.0 1417.0,1023.6 1420.1,1042.1 1423.2,1075.1 1426.3,1081.6 1429.4,1091.7 1432.5,1097.5 1435.6,1103.1 1438.7,1108.3 1441.8,1153.8 1444.9,1123.2 1448.0,1082.1 1451.1,1023.6 1454.2,1153.8 1457.3,1116.9 1460.4,1078.7 1463.5,1040.5 1466.6,1087.0 1469.7,1133.6 1472.8,1187.7 1475.9,1155.6 1479.0,1117.2 1482.1,1075.1 1485.2,1126.5 1488.3,1170.8 1491.4,1075.1 1494.5,1121.4 1497.6,1153.8 1500.7,1096.6 1503.8,1040.5 1506.9,1082.9 1510.0,1170.8 1513.1,1109.6 1516.2,1094.3 1519.3,1075.1 1522.4,1170.8 1525.5,1166.4 1528.6,1159.2 1531.7,1171.0 1534.8,1187.7 1537.9,1139.0 1541.0,1092.0 1544.1,1169.5 1547.2,1092.0 1550.3,1127.7 1553.4,1187.7 1556.5,1142.3 1559.6,1154.3 1562.7,1170.8 1565.8,1142.3 1568.9,1170.8 1572.0,1162.1 1575.1,1142.3 1578.2,1142.3 1581.3,1142.3 1584.4,1142.3 1587.5,1170.8 1590.6,1108.3 1593.7,1187.7 1596.8,1172.5 1599.9,1150.8 1603.0,1129.2 1606.1,1107.5 1609.2,1092.0 1612.3,1170.8 1615.4,1154.9 1618.5,1142.3 1621.6,1171.4 1624.7,1187.7 1627.8,1142.3 1630.9,1170.8 1634.0,1164.0 1637.1,1159.2 1640.2,1187.7 1643.3,1142.3 1646.4,1187.7 1649.5,1171.8 1652.6,1142.3 1655.7,1150.2 1658.8,1160.5 1661.9,1170.9 1665.0,1181.2 1668.1,1187.7 1671.2,1111.0 1674.3,1138.2 1677.4,1057.5 1680.5,1057.5 1683.6,1057.5 1686.7,1187.7 1689.8,1167.4 1692.9,1135.4 1696.0,1092.7 1699.1,1134.0 1702.2,1170.8 1705.3,1142.3 1708.4,1159.7 1711.5,1187.7 1714.6,1075.1 1717.7,1085.2 1720.8,1108.3 1723.9,1114.3 1727.0,1126.6 1730.1,1133.7 1733.2,1142.3 1736.3,1170.8 1739.4,1156.0 1742.5,1141.8 1745.6,1127.7 1748.7,1108.3 1751.8,1170.8 1754.9,1142.3 1758.0,1149.8 1761.0,1159.2 1764.1,1187.7 1767.2,1182.3 1770.3,1176.2 1773.4,1182.9 1776.5,1187.7 1779.6,1180.3 1782.7,1176.2 1785.8,1182.2 1788.9,1187.7 1792.0,1159.2 1795.1,1154.4 1798.2,1142.3 1801.3,1187.7 1804.4,1182.9 1807.5,1177.5 1810.6,1149.8 1813.7,1125.3 1816.8,1149.7 1819.9,1176.2 1823.0,1182.3 1826.1,1187.7 1829.2,1175.3 1832.3,1159.2 1835.4,1172.7 1838.5,1187.7 1841.6,1176.2 1844.7,1187.7 1847.8,1173.8 1850.9,1159.2 1854.0,1187.7 1857.1,1176.2 1860.2,1161.4 1863.3,1142.3 1866.4,1187.7 1869.5,1183.9 1872.6,1176.2 1875.7,1152.6 1878.8,1125.3 1881.9,1166.4 1885.0,1187.7 1888.1,1176.2 1891.2,1166.8 1894.3,1155.2 1897.4,1142.3 1900.5,1156.5 1903.6,1172.5 1906.7,1186.4 1909.8,1169.5 1912.9,1160.0 1916.0,1164.4 1919.1,1166.5 1922.2,1125.6 1925.3,1142.9 1928.4,1171.9 1931.5,1163.2 1934.6,1146.6 1937.7,1130.1 1940.8,1109.3 1943.9,1141.8 1947.0,1186.4 1950.1,1125.6 1953.2,1136.6 1956.3,1157.6 1959.4,1168.3 1962.5,1141.3 1965.6,1125.6 1968.7,1092.9 1971.8,1058.6 1974.9,1186.4 1978.0,1158.2 1981.1,1109.3 1984.2,1125.2 1987.3,1135.7 1990.4,1022.4 1993.5,1068.1 1996.6,1119.4 1999.7,987.1 2002.8,1055.0 2005.9,1119.4 2009.0,987.1 2012.1,1051.9 2015.2,1101.3 2018.3,992.0 2021.4,911.5 2024.5,867.6 2027.6,1068.7 2030.7,1024.2 2033.8,1110.4 2036.9,1186.4 2040.0,1124.5 2043.1,1024.2 2046.2,1117.6 2049.3,1106.8 2052.4,1094.8 2055.5,1129.0 2058.6,1152.0 2061.7,1095.9 2064.8,1058.6 2067.9,1050.6 2071.0,1044.3 2074.1,1040.5 2077.2,1147.5 2080.3,1072.2 2083.4,987.1 2086.5,1048.9 2089.6,1152.0 2092.7,1122.4 2095.8,1068.4 2098.9,1040.5 2102.0,1135.7 2105.1,1109.9 2108.2,1074.9 2111.3,1082.3 2114.4,1072.2 2117.5,1057.9 2120.6,1101.7 2123.7,1081.5 2126.8,1040.7 2129.9,1084.5 2133.0,936.1 2136.1,1013.4 2139.2,1099.3 2142.3,1157.8 2145.4,1023.4 2148.5,1004.0 2151.6,1028.8 2154.7,1067.2 2157.8,1101.7 2160.9,954.4 2164.0,1012.6 2167.1,1067.2 2170.2,1026.6 2173.3,988.9 2176.4,1067.2 2179.5,901.6 2182.6,959.5 2185.7,1067.2 2188.8,850.9 2191.9,1049.9 2195.0,1003.1 2198.1,929.9 2201.2,870.3 2204.3,850.9 2207.4,1084.5 2210.5,954.4 2213.6,1008.9 2216.7,1052.1 2219.8,1052.1 2222.9,991.3 2226.0,884.3 2229.1,1049.9 2232.2,986.2 2235.3,906.4 2238.4,800.2 2241.5,822.6 2244.6,870.3 2247.7,1015.4 2250.8,972.3 2253.9,901.6 2257.0,936.0 2260.1,850.9 2263.2,872.9 2266.3,894.6 2269.4,746.9 2272.5,998.2 2275.6,944.0 2278.7,843.2 2281.8,712.1 2284.9,735.2 2288.0,760.0 2291.1,694.2 2294.2,781.5 2297.3,694.4 2300.4,593.0 2303.5,539.5 2306.6,560.0 2309.7,391.9 2312.8,246.3 2315.9,363.3 2318.4,449.2 2318.4,1208.5" fill="none" stroke="#033c86" stroke-width="8.4" stroke-linejoin="round" stroke-linecap="round"/>
<line x1="207.5" y1="1206.4" x2="2320.4" y2="1206.4" stroke="#033c86" stroke-opacity="0.75" stroke-width="3.2"/>
</g>
<line x1="207.5" y1="1209.8" x2="2324.6" y2="1209.8" stroke="#e2dede" stroke-width="2.5"/>
<line x1="211.5" y1="1210" x2="211.5" y2="1220" stroke="#d4d4d4" stroke-width="3"/>
<text x="220.3" y="1254.3" font-size="36" text-anchor="end" transform="rotate(-45 220.3 1254.3)" fill="#000">2020-01-20</text>
<line x1="307.6" y1="1210" x2="307.6" y2="1220" stroke="#d4d4d4" stroke-width="3"/>
<text x="316.4" y="1254.3" font-size="36" text-anchor="end" transform="rotate(-45 316.4 1254.3)" fill="#000">2020-02-20</text>
<line x1="397.5" y1="1210" x2="397.5" y2="1220" stroke="#d4d4d4" stroke-width="3"/>
<text x="406.3" y="1254.3" font-size="36" text-anchor="end" transform="rotate(-45 406.3 1254.3)" fill="#000">2020-03-20</text>
<line x1="493.6" y1="1210" x2="493.6" y2="1220" stroke="#d4d4d4" stroke-width="3"/>
<text x="502.4" y="1254.3" font-size="36" text-anchor="end" transform="rotate(-45 502.4 1254.3)" fill="#000">2020-04-20</text>
<line x1="586.5" y1="1210" x2="586.5" y2="1220" stroke="#d4d4d4" stroke-width="3"/>
<text x="595.3" y="1254.3" font-size="36" text-anchor="end" transform="rotate(-45 595.3 1254.3)" fill="#000">2020-05-20</text>
<line x1="682.6" y1="1210" x2="682.6" y2="1220" stroke="#d4d4d4" stroke-width="3"/>
<text x="691.4" y="1254.3" font-size="36" text-anchor="end" transform="rotate(-45 691.4 1254.3)" fill="#000">2020-06-20</text>
<line x1="775.6" y1="1210" x2="775.6" y2="1220" stroke="#d4d4d4" stroke-width="3"/>
<text x="784.4" y="1254.3" font-size="36" text-anchor="end" transform="rotate(-45 784.4 1254.3)" fill="#000">2020-07-20</text>
<line x1="871.7" y1="1210" x2="871.7" y2="1220" stroke="#d4d4d4" stroke-width="3"/>
<text x="880.5" y="1254.3" font-size="36" text-anchor="end" transform="rotate(-45 880.5 1254.3)" fill="#000">2020-08-20</text>
<line x1="967.8" y1="1210" x2="967.8" y2="1220" stroke="#d4d4d4" stroke-width="3"/>
<text x="976.6" y="1254.3" font-size="36" text-anchor="end" transform="rotate(-45 976.6 1254.3)" fill="#000">2020-09-20</text>
<line x1="1060.8" y1="1210" x2="1060.8" y2="1220" stroke="#d4d4d4" stroke-width="3"/>
<text x="1069.6" y="1254.3" font-size="36" text-anchor="end" transform="rotate(-45 1069.6 1254.3)" fill="#000">2020-10-20</text>
<line x1="1156.8" y1="1210" x2="1156.8" y2="1220" stroke="#d4d4d4" stroke-width="3"/>
<text x="1165.6" y="1254.3" font-size="36" text-anchor="end" transform="rotate(-45 1165.6 1254.3)" fill="#000">2020-11-20</text>
<line x1="1249.8" y1="1210" x2="1249.8" y2="1220" stroke="#d4d4d4" stroke-width="3"/>
<text x="1258.6" y="1254.3" font-size="36" text-anchor="end" transform="rotate(-45 1258.6 1254.3)" fill="#000">2020-12-20</text>
<line x1="1345.9" y1="1210" x2="1345.9" y2="1220" stroke="#d4d4d4" stroke-width="3"/>
<text x="1354.7" y="1254.3" font-size="36" text-anchor="end" transform="rotate(-45 1354.7 1254.3)" fill="#000">2021-01-20</text>
<line x1="1442.0" y1="1210" x2="1442.0" y2="1220" stroke="#d4d4d4" stroke-width="3"/>
<text x="1450.8" y="1254.3" font-size="36" text-anchor="end" transform="rotate(-45 1450.8 1254.3)" fill="#000">2021-02-20</text>
<line x1="1528.8" y1="1210" x2="1528.8" y2="1220" stroke="#d4d4d4" stroke-width="3"/>
<text x="1537.6" y="1254.3" font-size="36" text-anchor="end" transform="rotate(-45 1537.6 1254.3)" fill="#000">2021-03-20</text>
<line x1="1624.9" y1="1210" x2="1624.9" y2="1220" stroke="#d4d4d4" stroke-width="3"/>
<text x="1633.7" y="1254.3" font-size="36" text-anchor="end" transform="rotate(-45 1633.7 1254.3)" fill="#000">2021-04-20</text>
<line x1="1717.9" y1="1210" x2="1717.9" y2="1220" stroke="#d4d4d4" stroke-width="3"/>
<text x="1726.7" y="1254.3" font-size="36" text-anchor="end" transform="rotate(-45 1726.7 1254.3)" fill="#000">2021-05-20</text>
<line x1="1813.9" y1="1210" x2="1813.9" y2="1220" stroke="#d4d4d4" stroke-width="3"/>
<text x="1822.7" y="1254.3" font-size="36" text-anchor="end" transform="rotate(-45 1822.7 1254.3)" fill="#000">2021-06-20</text>
<line x1="1906.9" y1="1210" x2="1906.9" y2="1220" stroke="#d4d4d4" stroke-width="3"/>
<text x="1915.7" y="1254.3" font-size="36" text-anchor="end" transform="rotate(-45 1915.7 1254.3)" fill="#000">2021-07-20</text>
<line x1="2003.0" y1="1210" x2="2003.0" y2="1220" stroke="#d4d4d4" stroke-width="3"/>
<text x="2011.8" y="1254.3" font-size="36" text-anchor="end" transform="rotate(-45 2011.8 1254.3)" fill="#000">2021-08-20</text>
<line x1="2099.1" y1="1210" x2="2099.1" y2="1220" stroke="#d4d4d4" stroke-width="3"/>
<text x="2107.9" y="1254.3" font-size="36" text-anchor="end" transform="rotate(-45 2107.9 1254.3)" fill="#000">2021-09-20</text>
<line x1="2192.1" y1="1210" x2="2192.1" y2="1220" stroke="#d4d4d4" stroke-width="3"/>
<text x="2200.9" y="1254.3" font-size="36" text-anchor="end" transform="rotate(-45 2200.9 1254.3)" fill="#000">2021-10-20</text>
<line x1="2288.2" y1="1210" x2="2288.2" y2="1220" stroke="#d4d4d4" stroke-width="3"/>
<text x="2297.0" y="1254.3" font-size="36" text-anchor="end" transform="rotate(-45 2297.0 1254.3)" fill="#000">2021-11-20</text>
<text x="181" y="1220.4" font-size="36" text-anchor="end" fill="#000">0</text>
<text x="181" y="1052.8" font-size="36" text-anchor="end" fill="#000">10</text>
<text x="181" y="877.2" font-size="36" text-anchor="end" fill="#000">20</text>
<text x="181" y="703.6" font-size="36" text-anchor="end" fill="#000">30</text>
<text x="181" y="529.8" font-size="36" text-anchor="end" fill="#000">40</text>
<text x="181" y="356.4" font-size="36" text-anchor="end" fill="#000">50</text>
<text x="181" y="185.4" font-size="36" text-anchor="end" fill="#000">60</text>
<text x="14" y="108" font-size="64" fill="#000">(A)</text>
<text x="1128" y="110" font-size="63.5" fill="#0c2a4a">Death</text>
<text x="324.5" y="851.5" font-size="55" fill="#0c2a4a">1st peak</text>
<text x="793.6" y="851" font-size="55" fill="#0c2a4a">2nd peak</text>
<text x="1180" y="381.5" font-size="55" fill="#0c2a4a">3rd peak</text>
<text x="2010" y="277.2" font-size="55" fill="#2d391b">4th peak</text>
<rect x="418.9" y="1423.8" width="1346.1" height="945.2" fill="#fcdfc7"/>
<polygon points="418.9,1423.8 611.2,1423.8 803.5,1612.0 995.8,2369.0 418.9,2369.0" fill="#b0e5f7"/>
<polygon points="418.9,1423.8 611.2,2177.0 803.5,2369.0 418.9,2369.0" fill="#e0e9cc"/>
<g clip-path="url(#cB2)">
<polygon points="444.8,2371.5 444.8,2302.5 445.0,2302.5 448.1,2296.2 454.4,2315.0 460.0,2256.2 464.4,2297.5 470.0,2303.8 476.2,2268.1 481.2,2270.0 491.2,2282.5 498.1,2238.8 504.4,2302.5 508.1,2305.0 513.1,2215.0 524.4,2263.8 530.0,2251.2 535.6,2283.8 541.9,2243.8 550.6,2285.0 562.5,2188.8 568.1,2276.2 573.8,2196.2 581.9,2257.5 593.8,2311.2 606.2,2190.0 611.2,2263.8 616.9,2258.8 623.1,2311.2 632.5,2278.8 643.8,2293.8 649.4,2285.0 655.0,2288.8 660.6,2315.0 670.6,2287.5 677.5,2296.2 681.9,2291.2 687.5,2336.2 693.8,2327.5 699.4,2333.8 710.0,2248.8 713.8,2325.0 718.8,2337.5 725.0,2330.0 730.6,2356.2 736.9,2336.2 742.5,2335.0 748.8,2320.0 753.8,2318.8 757.5,2330.0 763.1,2318.8 768.8,2338.8 774.4,2337.5 785.0,2347.5 793.8,2335.0 802.5,2341.2 812.5,2353.8 818.8,2315.0 827.5,2338.8 835.6,2292.5 841.2,2316.2 846.2,2315.0 850.6,2336.2 856.2,2271.2 867.5,2311.2 879.4,2255.0 888.9,2294.8 900.1,2206.0 905.7,2230.0 916.8,2183.7 921.3,2288.1 926.9,2181.4 933.6,2183.7 938.5,2205.5 947.0,2054.2 954.8,2002.8 964.4,2131.8 970.4,2054.2 976.5,2098.3 982.7,2009.5 992.9,1909.0 1001.7,2024.6 1008.2,1867.9 1014.0,2089.4 1019.2,1629.5 1026.0,1847.9 1030.6,1817.7 1042.0,1803.5 1046.6,1708.2 1052.3,1865.2 1058.0,1558.7 1065.0,1720.0 1073.9,1881.1 1080.8,1877.0 1086.5,1958.7 1090.5,1623.8 1099.1,1728.5 1110.5,1808.2 1123.1,2008.7 1127.6,1728.5 1133.3,1764.6 1139.0,1725.1 1144.8,1788.0 1150.5,1803.8 1162.2,2075.1 1171.0,1822.0 1176.7,1915.2 1182.4,1899.6 1192.7,2144.3 1199.8,2146.3 1204.9,2090.3 1211.0,2117.8 1215.1,2019.1 1225.2,2183.9 1232.4,2182.9 1237.4,2231.7 1243.5,2133.0 1247.6,2158.5 1252.7,2141.1 1258.8,2252.1 1270.0,2234.7 1276.1,2288.7 1286.3,2240.8 1292.4,2290.7 1296.4,2234.7 1302.5,2253.0 1307.6,2305.0 1313.8,2268.8 1319.4,2326.2 1325.0,2268.8 1330.6,2283.8 1335.0,2282.5 1351.2,2328.8 1367.5,2303.8 1373.8,2331.2 1378.1,2283.8 1388.8,2341.2 1406.2,2308.8 1413.8,2315.0 1422.5,2360.0 1432.5,2341.2 1438.8,2347.5 1443.8,2350.0 1450.0,2358.8 1460.0,2341.2 1471.2,2366.2 1477.5,2347.5 1487.5,2357.5 1493.8,2342.5 1500.0,2350.0 1503.8,2366.2 1510.0,2363.8 1516.2,2365.0 1530.0,2355.1 1537.8,2357.9 1543.0,2356.4 1552.2,2355.1 1558.7,2356.6 1563.9,2347.3 1571.7,2367.1 1579.6,2367.1 1590.0,2360.3 1600.4,2365.5 1607.0,2364.2 1617.4,2368.4 1626.5,2361.6 1633.0,2356.4 1639.6,2345.3 1647.4,2345.3 1652.6,2348.6 1657.2,2363.1 1667.0,2350.5 1676.1,2350.5 1689.1,2357.7 1699.6,2356.4 1710.0,2323.8 1716.5,2327.7 1723.0,2344.9 1730.9,2344.9 1738.7,2336.8 1743.9,2334.2 1751.7,2317.3 1758.3,2334.2 1758.3,2371.5" fill="#716e7c"/>
<polyline points="444.8,2371.5 444.8,2302.5 445.0,2302.5 448.1,2296.2 454.4,2315.0 460.0,2256.2 464.4,2297.5 470.0,2303.8 476.2,2268.1 481.2,2270.0 491.2,2282.5 498.1,2238.8 504.4,2302.5 508.1,2305.0 513.1,2215.0 524.4,2263.8 530.0,2251.2 535.6,2283.8 541.9,2243.8 550.6,2285.0 562.5,2188.8 568.1,2276.2 573.8,2196.2 581.9,2257.5 593.8,2311.2 606.2,2190.0 611.2,2263.8 616.9,2258.8 623.1,2311.2 632.5,2278.8 643.8,2293.8 649.4,2285.0 655.0,2288.8 660.6,2315.0 670.6,2287.5 677.5,2296.2 681.9,2291.2 687.5,2336.2 693.8,2327.5 699.4,2333.8 710.0,2248.8 713.8,2325.0 718.8,2337.5 725.0,2330.0 730.6,2356.2 736.9,2336.2 742.5,2335.0 748.8,2320.0 753.8,2318.8 757.5,2330.0 763.1,2318.8 768.8,2338.8 774.4,2337.5 785.0,2347.5 793.8,2335.0 802.5,2341.2 812.5,2353.8 818.8,2315.0 827.5,2338.8 835.6,2292.5 841.2,2316.2 846.2,2315.0 850.6,2336.2 856.2,2271.2 867.5,2311.2 879.4,2255.0 888.9,2294.8 900.1,2206.0 905.7,2230.0 916.8,2183.7 921.3,2288.1 926.9,2181.4 933.6,2183.7 938.5,2205.5 947.0,2054.2 954.8,2002.8 964.4,2131.8 970.4,2054.2 976.5,2098.3 982.7,2009.5 992.9,1909.0 1001.7,2024.6 1008.2,1867.9 1014.0,2089.4 1019.2,1629.5 1026.0,1847.9 1030.6,1817.7 1042.0,1803.5 1046.6,1708.2 1052.3,1865.2 1058.0,1558.7 1065.0,1720.0 1073.9,1881.1 1080.8,1877.0 1086.5,1958.7 1090.5,1623.8 1099.1,1728.5 1110.5,1808.2 1123.1,2008.7 1127.6,1728.5 1133.3,1764.6 1139.0,1725.1 1144.8,1788.0 1150.5,1803.8 1162.2,2075.1 1171.0,1822.0 1176.7,1915.2 1182.4,1899.6 1192.7,2144.3 1199.8,2146.3 1204.9,2090.3 1211.0,2117.8 1215.1,2019.1 1225.2,2183.9 1232.4,2182.9 1237.4,2231.7 1243.5,2133.0 1247.6,2158.5 1252.7,2141.1 1258.8,2252.1 1270.0,2234.7 1276.1,2288.7 1286.3,2240.8 1292.4,2290.7 1296.4,2234.7 1302.5,2253.0 1307.6,2305.0 1313.8,2268.8 1319.4,2326.2 1325.0,2268.8 1330.6,2283.8 1335.0,2282.5 1351.2,2328.8 1367.5,2303.8 1373.8,2331.2 1378.1,2283.8 1388.8,2341.2 1406.2,2308.8 1413.8,2315.0 1422.5,2360.0 1432.5,2341.2 1438.8,2347.5 1443.8,2350.0 1450.0,2358.8 1460.0,2341.2 1471.2,2366.2 1477.5,2347.5 1487.5,2357.5 1493.8,2342.5 1500.0,2350.0 1503.8,2366.2 1510.0,2363.8 1516.2,2365.0 1530.0,2355.1 1537.8,2357.9 1543.0,2356.4 1552.2,2355.1 1558.7,2356.6 1563.9,2347.3 1571.7,2367.1 1579.6,2367.1 1590.0,2360.3 1600.4,2365.5 1607.0,2364.2 1617.4,2368.4 1626.5,2361.6 1633.0,2356.4 1639.6,2345.3 1647.4,2345.3 1652.6,2348.6 1657.2,2363.1 1667.0,2350.5 1676.1,2350.5 1689.1,2357.7 1699.6,2356.4 1710.0,2323.8 1716.5,2327.7 1723.0,2344.9 1730.9,2344.9 1738.7,2336.8 1743.9,2334.2 1751.7,2317.3 1758.3,2334.2 1758.3,2371.5" fill="none" stroke="#463f58" stroke-width="5.8" stroke-linejoin="round" stroke-linecap="round"/>
</g>
<g clip-path="url(#cB1)">
<polygon points="444.8,2371.5 444.8,2302.5 445.0,2302.5 448.1,2296.2 454.4,2315.0 460.0,2256.2 464.4,2297.5 470.0,2303.8 476.2,2268.1 481.2,2270.0 491.2,2282.5 498.1,2238.8 504.4,2302.5 508.1,2305.0 513.1,2215.0 524.4,2263.8 530.0,2251.2 535.6,2283.8 541.9,2243.8 550.6,2285.0 562.5,2188.8 568.1,2276.2 573.8,2196.2 581.9,2257.5 593.8,2311.2 606.2,2190.0 611.2,2263.8 616.9,2258.8 623.1,2311.2 632.5,2278.8 643.8,2293.8 649.4,2285.0 655.0,2288.8 660.6,2315.0 670.6,2287.5 677.5,2296.2 681.9,2291.2 687.5,2336.2 693.8,2327.5 699.4,2333.8 710.0,2248.8 713.8,2325.0 718.8,2337.5 725.0,2330.0 730.6,2356.2 736.9,2336.2 742.5,2335.0 748.8,2320.0 753.8,2318.8 757.5,2330.0 763.1,2318.8 768.8,2338.8 774.4,2337.5 785.0,2347.5 793.8,2335.0 802.5,2341.2 812.5,2353.8 818.8,2315.0 827.5,2338.8 835.6,2292.5 841.2,2316.2 846.2,2315.0 850.6,2336.2 856.2,2271.2 867.5,2311.2 879.4,2255.0 888.9,2294.8 900.1,2206.0 905.7,2230.0 916.8,2183.7 921.3,2288.1 926.9,2181.4 933.6,2183.7 938.5,2205.5 947.0,2054.2 954.8,2002.8 964.4,2131.8 970.4,2054.2 976.5,2098.3 982.7,2009.5 992.9,1909.0 1001.7,2024.6 1008.2,1867.9 1014.0,2089.4 1019.2,1629.5 1026.0,1847.9 1030.6,1817.7 1042.0,1803.5 1046.6,1708.2 1052.3,1865.2 1058.0,1558.7 1065.0,1720.0 1073.9,1881.1 1080.8,1877.0 1086.5,1958.7 1090.5,1623.8 1099.1,1728.5 1110.5,1808.2 1123.1,2008.7 1127.6,1728.5 1133.3,1764.6 1139.0,1725.1 1144.8,1788.0 1150.5,1803.8 1162.2,2075.1 1171.0,1822.0 1176.7,1915.2 1182.4,1899.6 1192.7,2144.3 1199.8,2146.3 1204.9,2090.3 1211.0,2117.8 1215.1,2019.1 1225.2,2183.9 1232.4,2182.9 1237.4,2231.7 1243.5,2133.0 1247.6,2158.5 1252.7,2141.1 1258.8,2252.1 1270.0,2234.7 1276.1,2288.7 1286.3,2240.8 1292.4,2290.7 1296.4,2234.7 1302.5,2253.0 1307.6,2305.0 1313.8,2268.8 1319.4,2326.2 1325.0,2268.8 1330.6,2283.8 1335.0,2282.5 1351.2,2328.8 1367.5,2303.8 1373.8,2331.2 1378.1,2283.8 1388.8,2341.2 1406.2,2308.8 1413.8,2315.0 1422.5,2360.0 1432.5,2341.2 1438.8,2347.5 1443.8,2350.0 1450.0,2358.8 1460.0,2341.2 1471.2,2366.2 1477.5,2347.5 1487.5,2357.5 1493.8,2342.5 1500.0,2350.0 1503.8,2366.2 1510.0,2363.8 1516.2,2365.0 1530.0,2355.1 1537.8,2357.9 1543.0,2356.4 1552.2,2355.1 1558.7,2356.6 1563.9,2347.3 1571.7,2367.1 1579.6,2367.1 1590.0,2360.3 1600.4,2365.5 1607.0,2364.2 1617.4,2368.4 1626.5,2361.6 1633.0,2356.4 1639.6,2345.3 1647.4,2345.3 1652.6,2348.6 1657.2,2363.1 1667.0,2350.5 1676.1,2350.5 1689.1,2357.7 1699.6,2356.4 1710.0,2323.8 1716.5,2327.7 1723.0,2344.9 1730.9,2344.9 1738.7,2336.8 1743.9,2334.2 1751.7,2317.3 1758.3,2334.2 1758.3,2371.5" fill="#2a7bb5"/>
<polyline points="444.8,2371.5 444.8,2302.5 445.0,2302.5 448.1,2296.2 454.4,2315.0 460.0,2256.2 464.4,2297.5 470.0,2303.8 476.2,2268.1 481.2,2270.0 491.2,2282.5 498.1,2238.8 504.4,2302.5 508.1,2305.0 513.1,2215.0 524.4,2263.8 530.0,2251.2 535.6,2283.8 541.9,2243.8 550.6,2285.0 562.5,2188.8 568.1,2276.2 573.8,2196.2 581.9,2257.5 593.8,2311.2 606.2,2190.0 611.2,2263.8 616.9,2258.8 623.1,2311.2 632.5,2278.8 643.8,2293.8 649.4,2285.0 655.0,2288.8 660.6,2315.0 670.6,2287.5 677.5,2296.2 681.9,2291.2 687.5,2336.2 693.8,2327.5 699.4,2333.8 710.0,2248.8 713.8,2325.0 718.8,2337.5 725.0,2330.0 730.6,2356.2 736.9,2336.2 742.5,2335.0 748.8,2320.0 753.8,2318.8 757.5,2330.0 763.1,2318.8 768.8,2338.8 774.4,2337.5 785.0,2347.5 793.8,2335.0 802.5,2341.2 812.5,2353.8 818.8,2315.0 827.5,2338.8 835.6,2292.5 841.2,2316.2 846.2,2315.0 850.6,2336.2 856.2,2271.2 867.5,2311.2 879.4,2255.0 888.9,2294.8 900.1,2206.0 905.7,2230.0 916.8,2183.7 921.3,2288.1 926.9,2181.4 933.6,2183.7 938.5,2205.5 947.0,2054.2 954.8,2002.8 964.4,2131.8 970.4,2054.2 976.5,2098.3 982.7,2009.5 992.9,1909.0 1001.7,2024.6 1008.2,1867.9 1014.0,2089.4 1019.2,1629.5 1026.0,1847.9 1030.6,1817.7 1042.0,1803.5 1046.6,1708.2 1052.3,1865.2 1058.0,1558.7 1065.0,1720.0 1073.9,1881.1 1080.8,1877.0 1086.5,1958.7 1090.5,1623.8 1099.1,1728.5 1110.5,1808.2 1123.1,2008.7 1127.6,1728.5 1133.3,1764.6 1139.0,1725.1 1144.8,1788.0 1150.5,1803.8 1162.2,2075.1 1171.0,1822.0 1176.7,1915.2 1182.4,1899.6 1192.7,2144.3 1199.8,2146.3 1204.9,2090.3 1211.0,2117.8 1215.1,2019.1 1225.2,2183.9 1232.4,2182.9 1237.4,2231.7 1243.5,2133.0 1247.6,2158.5 1252.7,2141.1 1258.8,2252.1 1270.0,2234.7 1276.1,2288.7 1286.3,2240.8 1292.4,2290.7 1296.4,2234.7 1302.5,2253.0 1307.6,2305.0 1313.8,2268.8 1319.4,2326.2 1325.0,2268.8 1330.6,2283.8 1335.0,2282.5 1351.2,2328.8 1367.5,2303.8 1373.8,2331.2 1378.1,2283.8 1388.8,2341.2 1406.2,2308.8 1413.8,2315.0 1422.5,2360.0 1432.5,2341.2 1438.8,2347.5 1443.8,2350.0 1450.0,2358.8 1460.0,2341.2 1471.2,2366.2 1477.5,2347.5 1487.5,2357.5 1493.8,2342.5 1500.0,2350.0 1503.8,2366.2 1510.0,2363.8 1516.2,2365.0 1530.0,2355.1 1537.8,2357.9 1543.0,2356.4 1552.2,2355.1 1558.7,2356.6 1563.9,2347.3 1571.7,2367.1 1579.6,2367.1 1590.0,2360.3 1600.4,2365.5 1607.0,2364.2 1617.4,2368.4 1626.5,2361.6 1633.0,2356.4 1639.6,2345.3 1647.4,2345.3 1652.6,2348.6 1657.2,2363.1 1667.0,2350.5 1676.1,2350.5 1689.1,2357.7 1699.6,2356.4 1710.0,2323.8 1716.5,2327.7 1723.0,2344.9 1730.9,2344.9 1738.7,2336.8 1743.9,2334.2 1751.7,2317.3 1758.3,2334.2 1758.3,2371.5" fill="none" stroke="#0b4f97" stroke-width="5.8" stroke-linejoin="round" stroke-linecap="round"/>
</g>
<g clip-path="url(#cDB)">
<polygon points="444.8,2371.5 444.8,2302.5 445.0,2302.5 448.1,2296.2 454.4,2315.0 460.0,2256.2 464.4,2297.5 470.0,2303.8 476.2,2268.1 481.2,2270.0 491.2,2282.5 498.1,2238.8 504.4,2302.5 508.1,2305.0 513.1,2215.0 524.4,2263.8 530.0,2251.2 535.6,2283.8 541.9,2243.8 550.6,2285.0 562.5,2188.8 568.1,2276.2 573.8,2196.2 581.9,2257.5 593.8,2311.2 606.2,2190.0 611.2,2263.8 616.9,2258.8 623.1,2311.2 632.5,2278.8 643.8,2293.8 649.4,2285.0 655.0,2288.8 660.6,2315.0 670.6,2287.5 677.5,2296.2 681.9,2291.2 687.5,2336.2 693.8,2327.5 699.4,2333.8 710.0,2248.8 713.8,2325.0 718.8,2337.5 725.0,2330.0 730.6,2356.2 736.9,2336.2 742.5,2335.0 748.8,2320.0 753.8,2318.8 757.5,2330.0 763.1,2318.8 768.8,2338.8 774.4,2337.5 785.0,2347.5 793.8,2335.0 802.5,2341.2 812.5,2353.8 818.8,2315.0 827.5,2338.8 835.6,2292.5 841.2,2316.2 846.2,2315.0 850.6,2336.2 856.2,2271.2 867.5,2311.2 879.4,2255.0 888.9,2294.8 900.1,2206.0 905.7,2230.0 916.8,2183.7 921.3,2288.1 926.9,2181.4 933.6,2183.7 938.5,2205.5 947.0,2054.2 954.8,2002.8 964.4,2131.8 970.4,2054.2 976.5,2098.3 982.7,2009.5 992.9,1909.0 1001.7,2024.6 1008.2,1867.9 1014.0,2089.4 1019.2,1629.5 1026.0,1847.9 1030.6,1817.7 1042.0,1803.5 1046.6,1708.2 1052.3,1865.2 1058.0,1558.7 1065.0,1720.0 1073.9,1881.1 1080.8,1877.0 1086.5,1958.7 1090.5,1623.8 1099.1,1728.5 1110.5,1808.2 1123.1,2008.7 1127.6,1728.5 1133.3,1764.6 1139.0,1725.1 1144.8,1788.0 1150.5,1803.8 1162.2,2075.1 1171.0,1822.0 1176.7,1915.2 1182.4,1899.6 1192.7,2144.3 1199.8,2146.3 1204.9,2090.3 1211.0,2117.8 1215.1,2019.1 1225.2,2183.9 1232.4,2182.9 1237.4,2231.7 1243.5,2133.0 1247.6,2158.5 1252.7,2141.1 1258.8,2252.1 1270.0,2234.7 1276.1,2288.7 1286.3,2240.8 1292.4,2290.7 1296.4,2234.7 1302.5,2253.0 1307.6,2305.0 1313.8,2268.8 1319.4,2326.2 1325.0,2268.8 1330.6,2283.8 1335.0,2282.5 1351.2,2328.8 1367.5,2303.8 1373.8,2331.2 1378.1,2283.8 1388.8,2341.2 1406.2,2308.8 1413.8,2315.0 1422.5,2360.0 1432.5,2341.2 1438.8,2347.5 1443.8,2350.0 1450.0,2358.8 1460.0,2341.2 1471.2,2366.2 1477.5,2347.5 1487.5,2357.5 1493.8,2342.5 1500.0,2350.0 1503.8,2366.2 1510.0,2363.8 1516.2,2365.0 1530.0,2355.1 1537.8,2357.9 1543.0,2356.4 1552.2,2355.1 1558.7,2356.6 1563.9,2347.3 1571.7,2367.1 1579.6,2367.1 1590.0,2360.3 1600.4,2365.5 1607.0,2364.2 1617.4,2368.4 1626.5,2361.6 1633.0,2356.4 1639.6,2345.3 1647.4,2345.3 1652.6,2348.6 1657.2,2363.1 1667.0,2350.5 1676.1,2350.5 1689.1,2357.7 1699.6,2356.4 1710.0,2323.8 1716.5,2327.7 1723.0,2344.9 1730.9,2344.9 1738.7,2336.8 1743.9,2334.2 1751.7,2317.3 1758.3,2334.2 1758.3,2371.5" fill="#567b81"/>
<polyline points="444.8,2371.5 444.8,2302.5 445.0,2302.5 448.1,2296.2 454.4,2315.0 460.0,2256.2 464.4,2297.5 470.0,2303.8 476.2,2268.1 481.2,2270.0 491.2,2282.5 498.1,2238.8 504.4,2302.5 508.1,2305.0 513.1,2215.0 524.4,2263.8 530.0,2251.2 535.6,2283.8 541.9,2243.8 550.6,2285.0 562.5,2188.8 568.1,2276.2 573.8,2196.2 581.9,2257.5 593.8,2311.2 606.2,2190.0 611.2,2263.8 616.9,2258.8 623.1,2311.2 632.5,2278.8 643.8,2293.8 649.4,2285.0 655.0,2288.8 660.6,2315.0 670.6,2287.5 677.5,2296.2 681.9,2291.2 687.5,2336.2 693.8,2327.5 699.4,2333.8 710.0,2248.8 713.8,2325.0 718.8,2337.5 725.0,2330.0 730.6,2356.2 736.9,2336.2 742.5,2335.0 748.8,2320.0 753.8,2318.8 757.5,2330.0 763.1,2318.8 768.8,2338.8 774.4,2337.5 785.0,2347.5 793.8,2335.0 802.5,2341.2 812.5,2353.8 818.8,2315.0 827.5,2338.8 835.6,2292.5 841.2,2316.2 846.2,2315.0 850.6,2336.2 856.2,2271.2 867.5,2311.2 879.4,2255.0 888.9,2294.8 900.1,2206.0 905.7,2230.0 916.8,2183.7 921.3,2288.1 926.9,2181.4 933.6,2183.7 938.5,2205.5 947.0,2054.2 954.8,2002.8 964.4,2131.8 970.4,2054.2 976.5,2098.3 982.7,2009.5 992.9,1909.0 1001.7,2024.6 1008.2,1867.9 1014.0,2089.4 1019.2,1629.5 1026.0,1847.9 1030.6,1817.7 1042.0,1803.5 1046.6,1708.2 1052.3,1865.2 1058.0,1558.7 1065.0,1720.0 1073.9,1881.1 1080.8,1877.0 1086.5,1958.7 1090.5,1623.8 1099.1,1728.5 1110.5,1808.2 1123.1,2008.7 1127.6,1728.5 1133.3,1764.6 1139.0,1725.1 1144.8,1788.0 1150.5,1803.8 1162.2,2075.1 1171.0,1822.0 1176.7,1915.2 1182.4,1899.6 1192.7,2144.3 1199.8,2146.3 1204.9,2090.3 1211.0,2117.8 1215.1,2019.1 1225.2,2183.9 1232.4,2182.9 1237.4,2231.7 1243.5,2133.0 1247.6,2158.5 1252.7,2141.1 1258.8,2252.1 1270.0,2234.7 1276.1,2288.7 1286.3,2240.8 1292.4,2290.7 1296.4,2234.7 1302.5,2253.0 1307.6,2305.0 1313.8,2268.8 1319.4,2326.2 1325.0,2268.8 1330.6,2283.8 1335.0,2282.5 1351.2,2328.8 1367.5,2303.8 1373.8,2331.2 1378.1,2283.8 1388.8,2341.2 1406.2,2308.8 1413.8,2315.0 1422.5,2360.0 1432.5,2341.2 1438.8,2347.5 1443.8,2350.0 1450.0,2358.8 1460.0,2341.2 1471.2,2366.2 1477.5,2347.5 1487.5,2357.5 1493.8,2342.5 1500.0,2350.0 1503.8,2366.2 1510.0,2363.8 1516.2,2365.0 1530.0,2355.1 1537.8,2357.9 1543.0,2356.4 1552.2,2355.1 1558.7,2356.6 1563.9,2347.3 1571.7,2367.1 1579.6,2367.1 1590.0,2360.3 1600.4,2365.5 1607.0,2364.2 1617.4,2368.4 1626.5,2361.6 1633.0,2356.4 1639.6,2345.3 1647.4,2345.3 1652.6,2348.6 1657.2,2363.1 1667.0,2350.5 1676.1,2350.5 1689.1,2357.7 1699.6,2356.4 1710.0,2323.8 1716.5,2327.7 1723.0,2344.9 1730.9,2344.9 1738.7,2336.8 1743.9,2334.2 1751.7,2317.3 1758.3,2334.2 1758.3,2371.5" fill="none" stroke="#2f4f62" stroke-width="5.8" stroke-linejoin="round" stroke-linecap="round"/>
</g>
<line x1="443.8" y1="2372" x2="1759.3" y2="2372" stroke="#13307a" stroke-width="3.6"/>
<line x1="444.8" y1="2376.3" x2="1758.3" y2="2376.3" stroke="#e4e0e6" stroke-width="2.5"/>
<line x1="444.8" y1="2379.2" x2="1759.3" y2="2379.2" stroke="#30508f" stroke-width="2.6"/>
<line x1="1758.8" y1="2370" x2="1758.8" y2="2380.4" stroke="#1c3a80" stroke-width="2.4"/>
<line x1="443.5" y1="2377" x2="443.5" y2="2387" stroke="#d4d4d4" stroke-width="3"/>
<text x="448.0" y="2421.5" font-size="34.8" text-anchor="end" transform="rotate(-45 448.0 2421.5)" fill="#000">2021-12-01</text>
<line x1="612.0" y1="2377" x2="612.0" y2="2387" stroke="#d4d4d4" stroke-width="3"/>
<text x="616.5" y="2421.5" font-size="34.8" text-anchor="end" transform="rotate(-45 616.5 2421.5)" fill="#000">2022-01-01</text>
<line x1="780.4" y1="2377" x2="780.4" y2="2387" stroke="#d4d4d4" stroke-width="3"/>
<text x="784.9" y="2421.5" font-size="34.8" text-anchor="end" transform="rotate(-45 784.9 2421.5)" fill="#000">2022-02-01</text>
<line x1="932.6" y1="2377" x2="932.6" y2="2387" stroke="#d4d4d4" stroke-width="3"/>
<text x="937.1" y="2421.5" font-size="34.8" text-anchor="end" transform="rotate(-45 937.1 2421.5)" fill="#000">2022-03-01</text>
<line x1="1101.0" y1="2377" x2="1101.0" y2="2387" stroke="#d4d4d4" stroke-width="3"/>
<text x="1105.5" y="2421.5" font-size="34.8" text-anchor="end" transform="rotate(-45 1105.5 2421.5)" fill="#000">2022-04-01</text>
<line x1="1264.0" y1="2377" x2="1264.0" y2="2387" stroke="#d4d4d4" stroke-width="3"/>
<text x="1268.5" y="2421.5" font-size="34.8" text-anchor="end" transform="rotate(-45 1268.5 2421.5)" fill="#000">2022-05-01</text>
<line x1="1432.5" y1="2377" x2="1432.5" y2="2387" stroke="#d4d4d4" stroke-width="3"/>
<text x="1437.0" y="2421.5" font-size="34.8" text-anchor="end" transform="rotate(-45 1437.0 2421.5)" fill="#000">2022-06-01</text>
<line x1="1595.5" y1="2377" x2="1595.5" y2="2387" stroke="#d4d4d4" stroke-width="3"/>
<text x="1600.0" y="2421.5" font-size="34.8" text-anchor="end" transform="rotate(-45 1600.0 2421.5)" fill="#000">2022-07-01</text>
<text x="402.5" y="2389.8" font-size="36" text-anchor="end" fill="#000">0</text>
<text x="402.5" y="2302.5" font-size="36" text-anchor="end" fill="#000">50</text>
<text x="402.5" y="2214.8" font-size="36" text-anchor="end" fill="#000">100</text>
<text x="402.5" y="2127.1" font-size="36" text-anchor="end" fill="#000">150</text>
<text x="402.5" y="2040.2" font-size="36" text-anchor="end" fill="#000">200</text>
<text x="402.5" y="1952.7" font-size="36" text-anchor="end" fill="#000">250</text>
<text x="402.5" y="1865.3" font-size="36" text-anchor="end" fill="#000">300</text>
<text x="402.5" y="1777.8" font-size="36" text-anchor="end" fill="#000">350</text>
<text x="402.5" y="1690.0" font-size="36" text-anchor="end" fill="#000">400</text>
<text x="402.5" y="1603.0" font-size="36" text-anchor="end" fill="#000">450</text>
<text x="402.5" y="1512.7" font-size="36" text-anchor="end" fill="#000">500</text>
<text x="15" y="1500.8" font-size="64" fill="#000">(B)</text>
<text x="958.8" y="1491.6" font-size="54.5" fill="#4b2c18">5th peak</text>
<rect x="1850.4" y="1559.8" width="29.2" height="29" fill="#f6c9a8"/>
<text x="1890.0" y="1589.0" font-size="47" textLength="327.7" lengthAdjust="spacingAndGlyphs" fill="#000">Omicron (BA.2)</text>
<rect x="1850.4" y="1656.8" width="29.2" height="29" fill="#b8d4ec"/>
<text x="1890.0" y="1686.9" font-size="47" textLength="327.7" lengthAdjust="spacingAndGlyphs" fill="#000">Omicron (BA.1)</text>
<rect x="1850.4" y="1753.0" width="29.2" height="29" fill="#b8dba8"/>
<text x="1891.5" y="1783.2" font-size="47" textLength="113.3" lengthAdjust="spacingAndGlyphs" fill="#000">Delta</text>
<rect x="1850.4" y="1850.8" width="29.2" height="29" fill="#e6c6e8"/>
<text x="1903.0" y="1879.6" font-size="47" textLength="153.6" lengthAdjust="spacingAndGlyphs" fill="#000">Epsilon</text>
<rect x="1850.4" y="1947.6" width="29.2" height="29" fill="#f6c9a8"/>
<text x="1902.1" y="1976.0" font-size="47" textLength="122.9" lengthAdjust="spacingAndGlyphs" fill="#000">Alpha</text>
<rect x="1850.4" y="2043.6" width="29.2" height="29" fill="#9dc0e4"/>
<text x="1891.5" y="2072.4" font-size="47" textLength="97.5" lengthAdjust="spacingAndGlyphs" fill="#000">Wild</text>
</svg></body></html>
